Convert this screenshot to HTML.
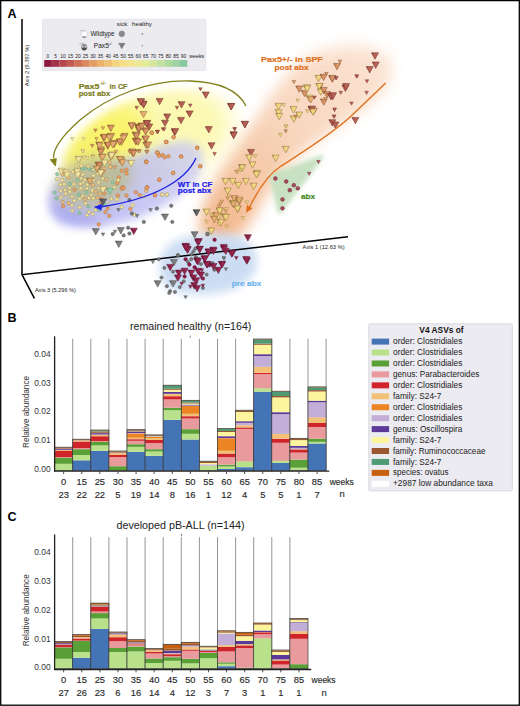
<!DOCTYPE html>
<html><head><meta charset="utf-8"><style>
html,body{margin:0;padding:0;background:#fff;}
svg{display:block;}
</style></head><body>
<svg width="520" height="706" viewBox="0 0 520 706">
<rect width="520" height="706" fill="#fff"/>
<defs>
<filter id="b14" x="-50%" y="-50%" width="200%" height="200%"><feGaussianBlur stdDeviation="14"/></filter>
<filter id="b10" x="-50%" y="-50%" width="200%" height="200%"><feGaussianBlur stdDeviation="10"/></filter>
<filter id="b7" x="-50%" y="-50%" width="200%" height="200%"><feGaussianBlur stdDeviation="7"/></filter>
<filter id="b4" x="-50%" y="-50%" width="200%" height="200%"><feGaussianBlur stdDeviation="4"/></filter>
<filter id="b2" x="-50%" y="-50%" width="200%" height="200%"><feGaussianBlur stdDeviation="2"/></filter>
<marker id="ah" viewBox="0 0 10 10" refX="8" refY="5" markerWidth="4" markerHeight="4" orient="auto-start-reverse"><path d="M0,0 L10,5 L0,10 z" fill="context-stroke"/></marker>
</defs>
<g>
<linearGradient id="og" gradientUnits="userSpaceOnUse" x1="380" y1="50" x2="215" y2="245"><stop offset="0" stop-color="#fbe3d2"/><stop offset="0.45" stop-color="#f8d5bb"/><stop offset="1" stop-color="#f2b184"/></linearGradient>
<path d="M318,52 C350,40 392,44 392,68 C392,95 360,112 330,132 C300,152 282,170 268,192 C256,212 248,232 230,242 C212,250 198,240 200,222 C204,192 226,162 250,128 C272,95 290,62 318,52 Z" fill="url(#og)" opacity="0.95" filter="url(#b7)"/>
<clipPath id="arcclip"><path d="M241,111 C233,97 217,90 190,89 C154,88 118,101 90,124 C74,138 65,150 63,162 L63,250 L270,250 Z"/></clipPath>
<g filter="url(#b4)"><g clip-path="url(#arcclip)">
<ellipse cx="130" cy="134" rx="100" ry="56" transform="rotate(-6 130 134)" fill="#f9f25e" opacity="0.45" filter="url(#b10)"/>
<ellipse cx="98" cy="138" rx="52" ry="35" transform="rotate(-15 98 138)" fill="#f7ef40" opacity="0.62" filter="url(#b10)"/>
<ellipse cx="205" cy="112" rx="40" ry="22" transform="rotate(10 205 112)" fill="#faf49a" opacity="0.2" filter="url(#b10)"/>
</g></g>
<linearGradient id="bg" gradientUnits="userSpaceOnUse" x1="50" y1="210" x2="205" y2="150"><stop offset="0" stop-color="#a6a6f0"/><stop offset="0.55" stop-color="#b6b6f3"/><stop offset="1" stop-color="#cdcdf7"/></linearGradient>
<path d="M48,200 C48,180 80,170 110,163 C140,156 160,143 182,141 C198,140 205,150 203,164 C200,184 178,200 150,213 C120,226 84,231 63,225 C52,220 48,210 48,200 Z" fill="url(#bg)" opacity="0.75" filter="url(#b4)"/>
<path d="M52,205 C55,220 80,228 105,224 C90,215 70,205 52,205 Z" fill="#9c9cee" opacity="0.5" filter="url(#b4)"/>
<ellipse cx="93" cy="182" rx="38" ry="25" transform="rotate(-14 93 182)" fill="#bcbc90" opacity="0.85" filter="url(#b7)"/>
<path d="M175,241 C190,234 215,232 232,234 C249,238 258,250 257,264 C255,279 240,289 220,293 C200,296 179,295 167,288 C158,280 158,263 163,253 C166,247 170,243 175,241 Z" fill="#cadcf3" opacity="0.95" filter="url(#b4)"/>
<path d="M271,176 L321.5,157 L279.5,212 Z" fill="#c6e0bf" stroke="#c6e0bf" stroke-width="4" stroke-linejoin="round" opacity="0.95" filter="url(#b2)"/>
</g>
<rect x="42.5" y="19.2" width="163.3" height="51.4" rx="1.5" fill="#ebebf0" stroke="#dcdce2" stroke-width="0.6"/>
<rect x="44.20" y="60" width="7.63" height="6.8" fill="#8d1a3d"/>
<rect x="51.73" y="60" width="7.63" height="6.8" fill="#a3334a"/>
<rect x="59.26" y="60" width="7.63" height="6.8" fill="#b44750"/>
<rect x="66.79" y="60" width="7.63" height="6.8" fill="#c15b52"/>
<rect x="74.32" y="60" width="7.63" height="6.8" fill="#cd7256"/>
<rect x="81.85" y="60" width="7.63" height="6.8" fill="#d9895d"/>
<rect x="89.38" y="60" width="7.63" height="6.8" fill="#e29e64"/>
<rect x="96.91" y="60" width="7.63" height="6.8" fill="#eab26d"/>
<rect x="104.44" y="60" width="7.63" height="6.8" fill="#efc377"/>
<rect x="111.97" y="60" width="7.63" height="6.8" fill="#f3d480"/>
<rect x="119.50" y="60" width="7.63" height="6.8" fill="#f5de88"/>
<rect x="127.03" y="60" width="7.63" height="6.8" fill="#f3e58f"/>
<rect x="134.56" y="60" width="7.63" height="6.8" fill="#eee996"/>
<rect x="142.09" y="60" width="7.63" height="6.8" fill="#e3ea9a"/>
<rect x="149.62" y="60" width="7.63" height="6.8" fill="#d4e69d"/>
<rect x="157.15" y="60" width="7.63" height="6.8" fill="#c2e0a0"/>
<rect x="164.68" y="60" width="7.63" height="6.8" fill="#b0d9a0"/>
<rect x="172.21" y="60" width="7.63" height="6.8" fill="#9dd1a0"/>
<rect x="179.74" y="60" width="7.63" height="6.8" fill="#88c89f"/>
<text x="47.90" y="57.6" text-anchor="middle" font-family='"Liberation Sans", sans-serif' font-size="5.3" fill="#222" textLength="2.6" lengthAdjust="spacingAndGlyphs">0</text>
<text x="55.43" y="57.6" text-anchor="middle" font-family='"Liberation Sans", sans-serif' font-size="5.3" fill="#222" textLength="2.6" lengthAdjust="spacingAndGlyphs">5</text>
<text x="62.96" y="57.6" text-anchor="middle" font-family='"Liberation Sans", sans-serif' font-size="5.3" fill="#222" textLength="5.5" lengthAdjust="spacingAndGlyphs">10</text>
<text x="70.49" y="57.6" text-anchor="middle" font-family='"Liberation Sans", sans-serif' font-size="5.3" fill="#222" textLength="5.5" lengthAdjust="spacingAndGlyphs">15</text>
<text x="78.02" y="57.6" text-anchor="middle" font-family='"Liberation Sans", sans-serif' font-size="5.3" fill="#222" textLength="5.5" lengthAdjust="spacingAndGlyphs">20</text>
<text x="85.55" y="57.6" text-anchor="middle" font-family='"Liberation Sans", sans-serif' font-size="5.3" fill="#222" textLength="5.5" lengthAdjust="spacingAndGlyphs">25</text>
<text x="93.08" y="57.6" text-anchor="middle" font-family='"Liberation Sans", sans-serif' font-size="5.3" fill="#222" textLength="5.5" lengthAdjust="spacingAndGlyphs">30</text>
<text x="100.61" y="57.6" text-anchor="middle" font-family='"Liberation Sans", sans-serif' font-size="5.3" fill="#222" textLength="5.5" lengthAdjust="spacingAndGlyphs">35</text>
<text x="108.14" y="57.6" text-anchor="middle" font-family='"Liberation Sans", sans-serif' font-size="5.3" fill="#222" textLength="5.5" lengthAdjust="spacingAndGlyphs">40</text>
<text x="115.67" y="57.6" text-anchor="middle" font-family='"Liberation Sans", sans-serif' font-size="5.3" fill="#222" textLength="5.5" lengthAdjust="spacingAndGlyphs">45</text>
<text x="123.20" y="57.6" text-anchor="middle" font-family='"Liberation Sans", sans-serif' font-size="5.3" fill="#222" textLength="5.5" lengthAdjust="spacingAndGlyphs">50</text>
<text x="130.73" y="57.6" text-anchor="middle" font-family='"Liberation Sans", sans-serif' font-size="5.3" fill="#222" textLength="5.5" lengthAdjust="spacingAndGlyphs">55</text>
<text x="138.26" y="57.6" text-anchor="middle" font-family='"Liberation Sans", sans-serif' font-size="5.3" fill="#222" textLength="5.5" lengthAdjust="spacingAndGlyphs">60</text>
<text x="145.79" y="57.6" text-anchor="middle" font-family='"Liberation Sans", sans-serif' font-size="5.3" fill="#222" textLength="5.5" lengthAdjust="spacingAndGlyphs">65</text>
<text x="153.32" y="57.6" text-anchor="middle" font-family='"Liberation Sans", sans-serif' font-size="5.3" fill="#222" textLength="5.5" lengthAdjust="spacingAndGlyphs">70</text>
<text x="160.85" y="57.6" text-anchor="middle" font-family='"Liberation Sans", sans-serif' font-size="5.3" fill="#222" textLength="5.5" lengthAdjust="spacingAndGlyphs">75</text>
<text x="168.38" y="57.6" text-anchor="middle" font-family='"Liberation Sans", sans-serif' font-size="5.3" fill="#222" textLength="5.5" lengthAdjust="spacingAndGlyphs">80</text>
<text x="175.91" y="57.6" text-anchor="middle" font-family='"Liberation Sans", sans-serif' font-size="5.3" fill="#222" textLength="5.5" lengthAdjust="spacingAndGlyphs">85</text>
<text x="183.44" y="57.6" text-anchor="middle" font-family='"Liberation Sans", sans-serif' font-size="5.3" fill="#222" textLength="5.5" lengthAdjust="spacingAndGlyphs">90</text>
<text x="189.2" y="57.6" font-family='"Liberation Sans", sans-serif' font-size="5.3" fill="#222">weeks</text>
<text x="116.8" y="26.3" font-family='"Liberation Sans", sans-serif' font-size="6.2" fill="#222">sick</text>
<text x="132" y="26.3" font-family='"Liberation Sans", sans-serif' font-size="6.2" fill="#222">healthy</text>
<text x="90.4" y="36" font-family='"Liberation Sans", sans-serif' font-size="6.6" fill="#222" textLength="24.2" lengthAdjust="spacingAndGlyphs">Wildtype</text>
<text x="93.8" y="48.2" font-family='"Liberation Sans", sans-serif' font-size="6.6" fill="#222">Pax5</text>
<text x="108.2" y="45.4" font-family='"Liberation Sans", sans-serif' font-size="3.6" fill="#222">+/-</text>
<circle cx="121.8" cy="33.8" r="2.9" fill="#8a8a8a" stroke="#777" stroke-width="0.4"/>
<circle cx="142.3" cy="33.8" r="0.9" fill="#888"/>
<path d="M118.6,43.3 L125,43.3 L121.8,48.8 Z" fill="#7e7e7e" stroke="#666" stroke-width="0.4"/>
<path d="M141.3,45.2 L143.3,45.2 L142.3,46.8 Z" fill="#888"/>
<path d="M79.3,32.3 C80.3,30.6 82.3,29.8 84.6,30.9" fill="none" stroke="#9a9a9a" stroke-width="0.55"/>
<ellipse cx="84.2" cy="34.6" rx="3.1" ry="3.4" fill="#fff" stroke="#c4c4c8" stroke-width="0.5"/>
<ellipse cx="84.2" cy="36.9" rx="2.1" ry="1" fill="#9a9a9a"/>
<path d="M79.3,45 C80.3,43.3 82.3,42.6 84.6,43.6" fill="none" stroke="#8a8a8a" stroke-width="0.55"/>
<ellipse cx="84.2" cy="47.2" rx="3.1" ry="3.3" fill="#8a8a8a"/>
<ellipse cx="84.2" cy="48.9" rx="2.2" ry="1.3" fill="#4a4a4a"/>
<ellipse cx="82.6" cy="46.8" rx="1" ry="0.6" fill="#fff"/><ellipse cx="85.8" cy="46.8" rx="1" ry="0.6" fill="#fff"/>
<path d="M22,19 L22,274.7 L348,236.8 M22,274.7 L34.4,298.4" fill="none" stroke="#000" stroke-width="1.5" stroke-linejoin="miter"/>
<text transform="translate(28.6,86.3) rotate(-90)" font-family='"Liberation Sans", sans-serif' font-size="5.3" fill="#222" textLength="41.5" lengthAdjust="spacingAndGlyphs">Axis 2 (9.397 %)</text>
<text x="302.6" y="249.3" font-family='"Liberation Sans", sans-serif' font-size="5.3" fill="#222" textLength="42" lengthAdjust="spacingAndGlyphs">Axis 1 (12.63 %)</text>
<text x="34.9" y="292.4" font-family='"Liberation Sans", sans-serif' font-size="5.3" fill="#222" textLength="41" lengthAdjust="spacingAndGlyphs">Axis 3 (5.296 %)</text>
<defs><linearGradient id="tgm" x1="0" y1="0" x2="1" y2="0.25"><stop offset="0" stop-color="#58102a"/><stop offset="0.35" stop-color="#8e1b45"/><stop offset="1" stop-color="#9b365b"/></linearGradient><linearGradient id="tgn" x1="0" y1="0" x2="1" y2="0.25"><stop offset="0" stop-color="#682d39"/><stop offset="0.35" stop-color="#a94a5c"/><stop offset="1" stop-color="#b35f6f"/></linearGradient><linearGradient id="tgr" x1="0" y1="0" x2="1" y2="0.25"><stop offset="0" stop-color="#70382f"/><stop offset="0.35" stop-color="#b65b4d"/><stop offset="1" stop-color="#be6e62"/></linearGradient><linearGradient id="tgo" x1="0" y1="0" x2="1" y2="0.25"><stop offset="0" stop-color="#86593a"/><stop offset="0.35" stop-color="#d9905f"/><stop offset="1" stop-color="#dd9d72"/></linearGradient><linearGradient id="tga" x1="0" y1="0" x2="1" y2="0.25"><stop offset="0" stop-color="#8e6b42"/><stop offset="0.35" stop-color="#e6ad6c"/><stop offset="1" stop-color="#e9b67d"/></linearGradient><linearGradient id="tgy" x1="0" y1="0" x2="1" y2="0.25"><stop offset="0" stop-color="#96834c"/><stop offset="0.35" stop-color="#f2d47c"/><stop offset="1" stop-color="#f3d98b"/></linearGradient><linearGradient id="tgp" x1="0" y1="0" x2="1" y2="0.25"><stop offset="0" stop-color="#968c5f"/><stop offset="0.35" stop-color="#f3e39a"/><stop offset="1" stop-color="#f4e6a6"/></linearGradient><linearGradient id="tgg" x1="0" y1="0" x2="1" y2="0.25"><stop offset="0" stop-color="#5a7d68"/><stop offset="0.35" stop-color="#92caa8"/><stop offset="1" stop-color="#9fd0b2"/></linearGradient><linearGradient id="tgk" x1="0" y1="0" x2="1" y2="0.25"><stop offset="0" stop-color="#4b4b4b"/><stop offset="0.35" stop-color="#7a7a7a"/><stop offset="1" stop-color="#898989"/></linearGradient><linearGradient id="tgd" x1="0" y1="0" x2="1" y2="0.25"><stop offset="0" stop-color="#373737"/><stop offset="0.35" stop-color="#5a5a5a"/><stop offset="1" stop-color="#6d6d6d"/></linearGradient><linearGradient id="tgc" x1="0" y1="0" x2="1" y2="0.25"><stop offset="0" stop-color="#90633c"/><stop offset="0.35" stop-color="#e9a062"/><stop offset="1" stop-color="#ebab74"/></linearGradient><linearGradient id="tge" x1="0" y1="0" x2="1" y2="0.25"><stop offset="0" stop-color="#947850"/><stop offset="0.35" stop-color="#f0c382"/><stop offset="1" stop-color="#f1ca91"/></linearGradient></defs>
<circle cx="99.34" cy="209.93" r="1.65" fill="#92caa8" stroke="#6a9a80" stroke-width="0.45"/>
<circle cx="60.60" cy="190.83" r="1.65" fill="#f3e39a" stroke="#a09060" stroke-width="0.45"/>
<circle cx="93.33" cy="198.18" r="1.65" fill="#f3e39a" stroke="#a09060" stroke-width="0.45"/>
<circle cx="68.47" cy="177.56" r="1.65" fill="#f0c382" stroke="#987040" stroke-width="0.45"/>
<circle cx="98.93" cy="166.87" r="1.65" fill="#f3e39a" stroke="#a09060" stroke-width="0.45"/>
<circle cx="103.52" cy="172.33" r="1.65" fill="#f0c382" stroke="#987040" stroke-width="0.45"/>
<circle cx="79.45" cy="169.62" r="1.65" fill="#f3e39a" stroke="#a09060" stroke-width="0.45"/>
<circle cx="56.95" cy="179.10" r="1.65" fill="#f3e39a" stroke="#a09060" stroke-width="0.45"/>
<circle cx="77.68" cy="179.70" r="1.65" fill="#92caa8" stroke="#6a9a80" stroke-width="0.45"/>
<circle cx="88.54" cy="180.11" r="1.65" fill="#f3e39a" stroke="#a09060" stroke-width="0.45"/>
<circle cx="79.83" cy="198.50" r="1.65" fill="#f3e39a" stroke="#a09060" stroke-width="0.45"/>
<circle cx="78.96" cy="194.73" r="1.65" fill="#92caa8" stroke="#6a9a80" stroke-width="0.45"/>
<circle cx="93.43" cy="179.87" r="1.65" fill="#f3e39a" stroke="#a09060" stroke-width="0.45"/>
<circle cx="63.31" cy="206.24" r="1.65" fill="#e9a062" stroke="#a86a3a" stroke-width="0.45"/>
<circle cx="82.85" cy="174.61" r="1.65" fill="#f3e39a" stroke="#a09060" stroke-width="0.45"/>
<circle cx="54.49" cy="192.55" r="1.65" fill="#92caa8" stroke="#6a9a80" stroke-width="0.45"/>
<circle cx="85.03" cy="168.45" r="1.65" fill="#92caa8" stroke="#6a9a80" stroke-width="0.45"/>
<circle cx="74.41" cy="189.72" r="1.65" fill="#e9a062" stroke="#a86a3a" stroke-width="0.45"/>
<circle cx="86.47" cy="192.17" r="1.65" fill="#92caa8" stroke="#6a9a80" stroke-width="0.45"/>
<circle cx="79.46" cy="213.02" r="1.65" fill="#92caa8" stroke="#6a9a80" stroke-width="0.45"/>
<circle cx="104.79" cy="204.48" r="1.65" fill="#92caa8" stroke="#6a9a80" stroke-width="0.45"/>
<circle cx="79.62" cy="207.31" r="1.65" fill="#f3e39a" stroke="#a09060" stroke-width="0.45"/>
<circle cx="88.91" cy="211.88" r="1.65" fill="#f3e39a" stroke="#a09060" stroke-width="0.45"/>
<circle cx="101.38" cy="198.65" r="1.65" fill="#e9a062" stroke="#a86a3a" stroke-width="0.45"/>
<circle cx="93.57" cy="175.55" r="1.65" fill="#f3e39a" stroke="#a09060" stroke-width="0.45"/>
<circle cx="87.18" cy="215.17" r="1.65" fill="#f3e39a" stroke="#a09060" stroke-width="0.45"/>
<circle cx="112.62" cy="182.35" r="1.65" fill="#92caa8" stroke="#6a9a80" stroke-width="0.45"/>
<circle cx="91.38" cy="195.05" r="1.65" fill="#f3e39a" stroke="#a09060" stroke-width="0.45"/>
<circle cx="88.27" cy="206.40" r="1.65" fill="#92caa8" stroke="#6a9a80" stroke-width="0.45"/>
<circle cx="111.31" cy="198.66" r="1.65" fill="#f3e39a" stroke="#a09060" stroke-width="0.45"/>
<circle cx="85.52" cy="203.51" r="1.65" fill="#f3e39a" stroke="#a09060" stroke-width="0.45"/>
<circle cx="62.15" cy="180.21" r="1.65" fill="#f3e39a" stroke="#a09060" stroke-width="0.45"/>
<circle cx="87.37" cy="184.62" r="1.65" fill="#f3e39a" stroke="#a09060" stroke-width="0.45"/>
<circle cx="114.21" cy="187.34" r="1.65" fill="#f3e39a" stroke="#a09060" stroke-width="0.45"/>
<circle cx="97.29" cy="197.47" r="1.65" fill="#f0c382" stroke="#987040" stroke-width="0.45"/>
<circle cx="62.69" cy="202.06" r="1.65" fill="#f0c382" stroke="#987040" stroke-width="0.45"/>
<circle cx="80.56" cy="188.22" r="1.65" fill="#f3e39a" stroke="#a09060" stroke-width="0.45"/>
<circle cx="88.25" cy="166.53" r="1.65" fill="#f3e39a" stroke="#a09060" stroke-width="0.45"/>
<circle cx="74.28" cy="200.56" r="1.65" fill="#f3e39a" stroke="#a09060" stroke-width="0.45"/>
<circle cx="92.27" cy="190.50" r="1.65" fill="#f3e39a" stroke="#a09060" stroke-width="0.45"/>
<circle cx="104.79" cy="188.30" r="1.65" fill="#f0c382" stroke="#987040" stroke-width="0.45"/>
<circle cx="57.20" cy="174.10" r="1.65" fill="#92caa8" stroke="#6a9a80" stroke-width="0.45"/>
<circle cx="68.66" cy="203.20" r="1.65" fill="#f0c382" stroke="#987040" stroke-width="0.45"/>
<circle cx="60.22" cy="184.54" r="1.65" fill="#f3e39a" stroke="#a09060" stroke-width="0.45"/>
<circle cx="56.37" cy="198.27" r="1.65" fill="#92caa8" stroke="#6a9a80" stroke-width="0.45"/>
<circle cx="84.81" cy="180.02" r="1.65" fill="#f3e39a" stroke="#a09060" stroke-width="0.45"/>
<circle cx="99.98" cy="193.41" r="1.65" fill="#f0c382" stroke="#987040" stroke-width="0.45"/>
<circle cx="72.01" cy="196.62" r="1.65" fill="#f3e39a" stroke="#a09060" stroke-width="0.45"/>
<circle cx="69.82" cy="183.98" r="1.65" fill="#92caa8" stroke="#6a9a80" stroke-width="0.45"/>
<circle cx="78.93" cy="174.45" r="1.65" fill="#f3e39a" stroke="#a09060" stroke-width="0.45"/>
<circle cx="98.65" cy="182.41" r="1.65" fill="#f3e39a" stroke="#a09060" stroke-width="0.45"/>
<circle cx="95.57" cy="209.81" r="1.65" fill="#f3e39a" stroke="#a09060" stroke-width="0.45"/>
<circle cx="99.08" cy="188.01" r="1.65" fill="#f3e39a" stroke="#a09060" stroke-width="0.45"/>
<circle cx="64.09" cy="184.22" r="1.65" fill="#f3e39a" stroke="#a09060" stroke-width="0.45"/>
<circle cx="69.87" cy="191.74" r="1.65" fill="#f3e39a" stroke="#a09060" stroke-width="0.45"/>
<circle cx="102.81" cy="178.38" r="1.65" fill="#f3e39a" stroke="#a09060" stroke-width="0.45"/>
<circle cx="107.66" cy="208.25" r="1.65" fill="#e9a062" stroke="#a86a3a" stroke-width="0.45"/>
<circle cx="65.63" cy="193.60" r="1.65" fill="#f3e39a" stroke="#a09060" stroke-width="0.45"/>
<circle cx="75.86" cy="165.56" r="1.65" fill="#f3e39a" stroke="#a09060" stroke-width="0.45"/>
<circle cx="88.98" cy="198.00" r="1.65" fill="#f3e39a" stroke="#a09060" stroke-width="0.45"/>
<circle cx="73.74" cy="184.16" r="1.65" fill="#f3e39a" stroke="#a09060" stroke-width="0.45"/>
<circle cx="71.96" cy="205.31" r="1.65" fill="#f3e39a" stroke="#a09060" stroke-width="0.45"/>
<circle cx="69.56" cy="188.02" r="1.65" fill="#f3e39a" stroke="#a09060" stroke-width="0.45"/>
<circle cx="92.30" cy="169.98" r="1.65" fill="#92caa8" stroke="#6a9a80" stroke-width="0.45"/>
<circle cx="87.04" cy="188.39" r="1.65" fill="#f3e39a" stroke="#a09060" stroke-width="0.45"/>
<circle cx="95.85" cy="191.74" r="1.65" fill="#f0c382" stroke="#987040" stroke-width="0.45"/>
<circle cx="73.06" cy="172.08" r="1.65" fill="#f3e39a" stroke="#a09060" stroke-width="0.45"/>
<circle cx="92.79" cy="213.91" r="1.65" fill="#f3e39a" stroke="#a09060" stroke-width="0.45"/>
<circle cx="97.11" cy="205.56" r="1.65" fill="#f3e39a" stroke="#a09060" stroke-width="0.45"/>
<circle cx="106.30" cy="179.48" r="1.65" fill="#f0c382" stroke="#987040" stroke-width="0.45"/>
<circle cx="98.43" cy="172.61" r="1.65" fill="#f3e39a" stroke="#a09060" stroke-width="0.45"/>
<circle cx="81.39" cy="165.62" r="1.65" fill="#f3e39a" stroke="#a09060" stroke-width="0.45"/>
<circle cx="60.79" cy="197.38" r="1.65" fill="#f3e39a" stroke="#a09060" stroke-width="0.45"/>
<circle cx="65.97" cy="171.32" r="1.65" fill="#f3e39a" stroke="#a09060" stroke-width="0.45"/>
<circle cx="101.12" cy="206.32" r="1.65" fill="#92caa8" stroke="#6a9a80" stroke-width="0.45"/>
<circle cx="82.65" cy="196.04" r="1.65" fill="#f3e39a" stroke="#a09060" stroke-width="0.45"/>
<circle cx="81.04" cy="178.34" r="1.65" fill="#f3e39a" stroke="#a09060" stroke-width="0.45"/>
<circle cx="93.14" cy="185.04" r="1.65" fill="#f0c382" stroke="#987040" stroke-width="0.45"/>
<circle cx="104.22" cy="193.55" r="1.65" fill="#e9a062" stroke="#a86a3a" stroke-width="0.45"/>
<circle cx="85.04" cy="199.55" r="1.65" fill="#f0c382" stroke="#987040" stroke-width="0.45"/>
<circle cx="101.03" cy="202.51" r="1.65" fill="#e9a062" stroke="#a86a3a" stroke-width="0.45"/>
<circle cx="64.86" cy="190.04" r="1.65" fill="#f3e39a" stroke="#a09060" stroke-width="0.45"/>
<circle cx="62.36" cy="174.56" r="1.65" fill="#f0c382" stroke="#987040" stroke-width="0.45"/>
<circle cx="72.27" cy="210.77" r="1.65" fill="#f3e39a" stroke="#a09060" stroke-width="0.45"/>
<circle cx="80.50" cy="183.81" r="1.65" fill="#f3e39a" stroke="#a09060" stroke-width="0.45"/>
<circle cx="275.40" cy="178.50" r="1.90" fill="#a94a5c" stroke="#6a2434" stroke-width="0.45"/>
<circle cx="286.20" cy="181.50" r="1.90" fill="#a94a5c" stroke="#6a2434" stroke-width="0.45"/>
<circle cx="293.80" cy="185.20" r="1.90" fill="#a94a5c" stroke="#6a2434" stroke-width="0.45"/>
<circle cx="297.80" cy="188.30" r="1.90" fill="#a94a5c" stroke="#6a2434" stroke-width="0.45"/>
<circle cx="289.80" cy="190.20" r="1.90" fill="#a94a5c" stroke="#6a2434" stroke-width="0.45"/>
<circle cx="282.50" cy="199.40" r="1.90" fill="#a94a5c" stroke="#6a2434" stroke-width="0.45"/>
<circle cx="282.50" cy="208.30" r="1.90" fill="#a94a5c" stroke="#6a2434" stroke-width="0.45"/>
<circle cx="152.00" cy="132.70" r="1.80" fill="#e9a062" stroke="#a86a3a" stroke-width="0.45"/>
<circle cx="173.50" cy="137.30" r="1.80" fill="#e9a062" stroke="#a86a3a" stroke-width="0.45"/>
<circle cx="166.50" cy="142.00" r="1.80" fill="#e9a062" stroke="#a86a3a" stroke-width="0.45"/>
<circle cx="197.20" cy="147.70" r="1.80" fill="#e9a062" stroke="#a86a3a" stroke-width="0.45"/>
<circle cx="151.50" cy="132.70" r="1.80" fill="#e9a062" stroke="#a86a3a" stroke-width="0.45"/>
<circle cx="173.70" cy="137.10" r="1.80" fill="#e9a062" stroke="#a86a3a" stroke-width="0.45"/>
<circle cx="166.00" cy="141.90" r="1.80" fill="#e9a062" stroke="#a86a3a" stroke-width="0.45"/>
<circle cx="197.30" cy="148.00" r="1.80" fill="#e9a062" stroke="#a86a3a" stroke-width="0.45"/>
<circle cx="157.30" cy="152.50" r="1.80" fill="#e9a062" stroke="#a86a3a" stroke-width="0.45"/>
<circle cx="158.80" cy="155.40" r="1.80" fill="#e9a062" stroke="#a86a3a" stroke-width="0.45"/>
<circle cx="162.70" cy="155.00" r="1.80" fill="#e9a062" stroke="#a86a3a" stroke-width="0.45"/>
<circle cx="164.60" cy="157.30" r="1.80" fill="#e9a062" stroke="#a86a3a" stroke-width="0.45"/>
<circle cx="168.50" cy="156.30" r="1.80" fill="#e9a062" stroke="#a86a3a" stroke-width="0.45"/>
<circle cx="181.00" cy="156.30" r="1.80" fill="#e9a062" stroke="#a86a3a" stroke-width="0.45"/>
<circle cx="146.30" cy="161.50" r="1.80" fill="#e9a062" stroke="#a86a3a" stroke-width="0.45"/>
<circle cx="200.40" cy="166.20" r="1.80" fill="#e9a062" stroke="#a86a3a" stroke-width="0.45"/>
<circle cx="157.70" cy="152.90" r="1.80" fill="#e9a062" stroke="#a86a3a" stroke-width="0.45"/>
<circle cx="159.20" cy="155.80" r="1.80" fill="#e9a062" stroke="#a86a3a" stroke-width="0.45"/>
<circle cx="181.30" cy="156.70" r="1.80" fill="#e9a062" stroke="#a86a3a" stroke-width="0.45"/>
<circle cx="146.20" cy="161.90" r="1.80" fill="#e9a062" stroke="#a86a3a" stroke-width="0.45"/>
<circle cx="200.00" cy="166.30" r="1.80" fill="#e9a062" stroke="#a86a3a" stroke-width="0.45"/>
<circle cx="173.10" cy="173.10" r="1.80" fill="#e9a062" stroke="#a86a3a" stroke-width="0.45"/>
<circle cx="159.20" cy="179.80" r="1.80" fill="#e9a062" stroke="#a86a3a" stroke-width="0.45"/>
<circle cx="146.70" cy="187.50" r="1.80" fill="#f0c382" stroke="#987040" stroke-width="0.45"/>
<circle cx="146.20" cy="190.80" r="1.80" fill="#f0c382" stroke="#987040" stroke-width="0.45"/>
<circle cx="155.00" cy="195.20" r="1.80" fill="#e9a062" stroke="#a86a3a" stroke-width="0.45"/>
<circle cx="162.10" cy="194.60" r="1.80" fill="#f3e39a" stroke="#a09060" stroke-width="0.45"/>
<circle cx="166.90" cy="194.60" r="1.80" fill="#f3e39a" stroke="#a09060" stroke-width="0.45"/>
<circle cx="143.80" cy="196.20" r="1.80" fill="#f3e39a" stroke="#a09060" stroke-width="0.45"/>
<circle cx="151.90" cy="132.80" r="1.80" fill="#e9a062" stroke="#a86a3a" stroke-width="0.45"/>
<circle cx="166.10" cy="142.00" r="1.80" fill="#e9a062" stroke="#a86a3a" stroke-width="0.45"/>
<circle cx="157.30" cy="152.80" r="1.80" fill="#e9a062" stroke="#a86a3a" stroke-width="0.45"/>
<circle cx="146.50" cy="162.00" r="1.80" fill="#e9a062" stroke="#a86a3a" stroke-width="0.45"/>
<circle cx="173.20" cy="172.80" r="1.80" fill="#e9a062" stroke="#a86a3a" stroke-width="0.45"/>
<circle cx="159.30" cy="179.50" r="1.80" fill="#e9a062" stroke="#a86a3a" stroke-width="0.45"/>
<circle cx="121.90" cy="170.80" r="1.80" fill="#e9a062" stroke="#a86a3a" stroke-width="0.45"/>
<circle cx="126.50" cy="169.70" r="1.80" fill="#e9a062" stroke="#a86a3a" stroke-width="0.45"/>
<circle cx="126.50" cy="173.40" r="1.80" fill="#e9a062" stroke="#a86a3a" stroke-width="0.45"/>
<circle cx="118.80" cy="177.40" r="1.80" fill="#e9a062" stroke="#a86a3a" stroke-width="0.45"/>
<circle cx="117.30" cy="183.10" r="1.80" fill="#e9a062" stroke="#a86a3a" stroke-width="0.45"/>
<circle cx="122.40" cy="187.20" r="1.80" fill="#e9a062" stroke="#a86a3a" stroke-width="0.45"/>
<circle cx="147.30" cy="187.20" r="1.80" fill="#e9a062" stroke="#a86a3a" stroke-width="0.45"/>
<circle cx="109.60" cy="162.30" r="1.80" fill="#f0c382" stroke="#987040" stroke-width="0.45"/>
<circle cx="110.40" cy="166.90" r="1.80" fill="#f0c382" stroke="#987040" stroke-width="0.45"/>
<circle cx="104.20" cy="168.50" r="1.80" fill="#f0c382" stroke="#987040" stroke-width="0.45"/>
<circle cx="118.10" cy="180.00" r="1.80" fill="#f3e39a" stroke="#a09060" stroke-width="0.45"/>
<circle cx="117.90" cy="195.60" r="1.80" fill="#e9a062" stroke="#a86a3a" stroke-width="0.45"/>
<circle cx="126.50" cy="195.60" r="1.80" fill="#e9a062" stroke="#a86a3a" stroke-width="0.45"/>
<circle cx="135.80" cy="192.30" r="1.80" fill="#e9a062" stroke="#a86a3a" stroke-width="0.45"/>
<circle cx="139.60" cy="195.00" r="1.80" fill="#e9a062" stroke="#a86a3a" stroke-width="0.45"/>
<circle cx="146.70" cy="187.90" r="1.80" fill="#e9a062" stroke="#a86a3a" stroke-width="0.45"/>
<circle cx="155.00" cy="195.00" r="1.80" fill="#e9a062" stroke="#a86a3a" stroke-width="0.45"/>
<circle cx="130.40" cy="209.00" r="1.80" fill="#e9a062" stroke="#a86a3a" stroke-width="0.45"/>
<circle cx="121.70" cy="188.80" r="1.80" fill="#e9a062" stroke="#a86a3a" stroke-width="0.45"/>
<circle cx="123.70" cy="187.90" r="1.80" fill="#e9a062" stroke="#a86a3a" stroke-width="0.45"/>
<circle cx="98.70" cy="224.40" r="1.80" fill="#e9a062" stroke="#a86a3a" stroke-width="0.45"/>
<circle cx="109.20" cy="215.80" r="1.80" fill="#e9a062" stroke="#a86a3a" stroke-width="0.45"/>
<circle cx="105.40" cy="212.00" r="1.80" fill="#e9a062" stroke="#a86a3a" stroke-width="0.45"/>
<circle cx="134.60" cy="214.80" r="1.80" fill="#f3e39a" stroke="#a09060" stroke-width="0.45"/>
<circle cx="132.70" cy="205.20" r="1.80" fill="#f3e39a" stroke="#a09060" stroke-width="0.45"/>
<circle cx="116.90" cy="199.40" r="1.80" fill="#f3e39a" stroke="#a09060" stroke-width="0.45"/>
<circle cx="121.70" cy="207.10" r="1.80" fill="#f3e39a" stroke="#a09060" stroke-width="0.45"/>
<circle cx="166.90" cy="194.60" r="1.80" fill="#f3e39a" stroke="#a09060" stroke-width="0.45"/>
<circle cx="162.10" cy="194.60" r="1.80" fill="#f3e39a" stroke="#a09060" stroke-width="0.45"/>
<circle cx="129.40" cy="200.00" r="1.70" fill="#7a7a7a" stroke="#4a4a4a" stroke-width="0.45"/>
<circle cx="131.90" cy="213.50" r="1.70" fill="#7a7a7a" stroke="#4a4a4a" stroke-width="0.45"/>
<circle cx="156.90" cy="208.50" r="1.70" fill="#7a7a7a" stroke="#4a4a4a" stroke-width="0.45"/>
<circle cx="171.20" cy="205.80" r="1.70" fill="#7a7a7a" stroke="#4a4a4a" stroke-width="0.45"/>
<circle cx="143.80" cy="221.90" r="1.70" fill="#7a7a7a" stroke="#4a4a4a" stroke-width="0.45"/>
<circle cx="172.30" cy="221.90" r="1.70" fill="#7a7a7a" stroke="#4a4a4a" stroke-width="0.45"/>
<circle cx="128.10" cy="227.70" r="1.70" fill="#7a7a7a" stroke="#4a4a4a" stroke-width="0.45"/>
<circle cx="129.40" cy="233.50" r="1.70" fill="#7a7a7a" stroke="#4a4a4a" stroke-width="0.45"/>
<circle cx="123.70" cy="235.40" r="1.70" fill="#7a7a7a" stroke="#4a4a4a" stroke-width="0.45"/>
<circle cx="112.70" cy="234.00" r="1.70" fill="#7a7a7a" stroke="#4a4a4a" stroke-width="0.45"/>
<circle cx="178.00" cy="255.20" r="1.70" fill="#7a7a7a" stroke="#4a4a4a" stroke-width="0.45"/>
<circle cx="207.50" cy="234.00" r="2.00" fill="#7a7a7a" stroke="#4a4a4a" stroke-width="0.45"/>
<circle cx="164.40" cy="267.90" r="1.60" fill="#7a7a7a" stroke="#4a4a4a" stroke-width="0.45"/>
<circle cx="161.50" cy="277.50" r="1.60" fill="#7a7a7a" stroke="#4a4a4a" stroke-width="0.45"/>
<circle cx="166.90" cy="286.20" r="1.60" fill="#7a7a7a" stroke="#4a4a4a" stroke-width="0.45"/>
<circle cx="170.20" cy="291.00" r="1.60" fill="#7a7a7a" stroke="#4a4a4a" stroke-width="0.45"/>
<circle cx="175.00" cy="292.00" r="1.60" fill="#7a7a7a" stroke="#4a4a4a" stroke-width="0.45"/>
<circle cx="179.80" cy="287.10" r="1.60" fill="#7a7a7a" stroke="#4a4a4a" stroke-width="0.45"/>
<circle cx="169.20" cy="292.90" r="1.60" fill="#7a7a7a" stroke="#4a4a4a" stroke-width="0.45"/>
<circle cx="177.90" cy="255.40" r="1.60" fill="#7a7a7a" stroke="#4a4a4a" stroke-width="0.45"/>
<circle cx="191.30" cy="259.20" r="1.60" fill="#7a7a7a" stroke="#4a4a4a" stroke-width="0.45"/>
<circle cx="191.30" cy="254.40" r="1.60" fill="#7a7a7a" stroke="#4a4a4a" stroke-width="0.45"/>
<circle cx="195.20" cy="248.70" r="1.60" fill="#7a7a7a" stroke="#4a4a4a" stroke-width="0.45"/>
<circle cx="193.30" cy="251.50" r="1.60" fill="#7a7a7a" stroke="#4a4a4a" stroke-width="0.45"/>
<circle cx="201.00" cy="264.00" r="1.60" fill="#7a7a7a" stroke="#4a4a4a" stroke-width="0.45"/>
<circle cx="212.50" cy="263.00" r="1.60" fill="#7a7a7a" stroke="#4a4a4a" stroke-width="0.45"/>
<circle cx="206.70" cy="274.60" r="1.60" fill="#7a7a7a" stroke="#4a4a4a" stroke-width="0.45"/>
<circle cx="202.90" cy="288.00" r="1.60" fill="#7a7a7a" stroke="#4a4a4a" stroke-width="0.45"/>
<circle cx="158.70" cy="259.20" r="1.60" fill="#7a7a7a" stroke="#4a4a4a" stroke-width="0.45"/>
<circle cx="173.00" cy="271.70" r="1.60" fill="#7a7a7a" stroke="#4a4a4a" stroke-width="0.45"/>
<circle cx="214.40" cy="269.80" r="1.60" fill="#7a7a7a" stroke="#4a4a4a" stroke-width="0.45"/>
<circle cx="183.70" cy="281.30" r="1.60" fill="#7a7a7a" stroke="#4a4a4a" stroke-width="0.45"/>
<circle cx="188.00" cy="262.00" r="1.60" fill="#7a7a7a" stroke="#4a4a4a" stroke-width="0.45"/>
<circle cx="196.00" cy="257.00" r="1.60" fill="#7a7a7a" stroke="#4a4a4a" stroke-width="0.45"/>
<circle cx="214.60" cy="239.80" r="1.80" fill="#8e1b45" stroke="#5a0f2a" stroke-width="0.45"/>
<circle cx="185.60" cy="259.20" r="1.80" fill="#8e1b45" stroke="#5a0f2a" stroke-width="0.45"/>
<circle cx="189.40" cy="264.60" r="1.80" fill="#8e1b45" stroke="#5a0f2a" stroke-width="0.45"/>
<circle cx="194.60" cy="267.30" r="1.80" fill="#8e1b45" stroke="#5a0f2a" stroke-width="0.45"/>
<circle cx="202.90" cy="278.50" r="1.80" fill="#8e1b45" stroke="#5a0f2a" stroke-width="0.45"/>
<circle cx="209.60" cy="265.00" r="1.80" fill="#8e1b45" stroke="#5a0f2a" stroke-width="0.45"/>
<circle cx="184.60" cy="276.50" r="1.80" fill="#8e1b45" stroke="#5a0f2a" stroke-width="0.45"/>
<path d="M371.50,52.78L378.50,52.78L375.00,59.22Z" fill="url(#tgr)" stroke="#6a2a24" stroke-width="0.5" stroke-linejoin="round"/>
<path d="M372.20,61.98L379.20,61.98L375.70,68.42Z" fill="url(#tgr)" stroke="#6a2a24" stroke-width="0.5" stroke-linejoin="round"/>
<path d="M366.20,66.58L373.20,66.58L369.70,73.02Z" fill="url(#tgr)" stroke="#6a2a24" stroke-width="0.5" stroke-linejoin="round"/>
<path d="M333.50,63.38L340.50,63.38L337.00,69.82Z" fill="url(#tgo)" stroke="#7a4a28" stroke-width="0.5" stroke-linejoin="round"/>
<path d="M338.20,59.94L341.80,59.94L340.00,63.26Z" fill="url(#tgo)" stroke="#7a4a28" stroke-width="0.35" stroke-linejoin="round"/>
<path d="M355.20,74.94L358.80,74.94L357.00,78.26Z" fill="url(#tgr)" stroke="#6a2a24" stroke-width="0.35" stroke-linejoin="round"/>
<path d="M365.20,79.74L368.80,79.74L367.00,83.06Z" fill="url(#tgr)" stroke="#6a2a24" stroke-width="0.35" stroke-linejoin="round"/>
<path d="M341.90,85.08L348.90,85.08L345.40,91.52Z" fill="url(#tgr)" stroke="#6a2a24" stroke-width="0.5" stroke-linejoin="round"/>
<path d="M328.80,75.88L335.80,75.88L332.30,82.32Z" fill="url(#tgo)" stroke="#7a4a28" stroke-width="0.5" stroke-linejoin="round"/>
<path d="M334.20,76.64L337.80,76.64L336.00,79.96Z" fill="url(#tgr)" stroke="#6a2a24" stroke-width="0.35" stroke-linejoin="round"/>
<path d="M339.00,91.24L342.60,91.24L340.80,94.56Z" fill="url(#tgr)" stroke="#6a2a24" stroke-width="0.35" stroke-linejoin="round"/>
<path d="M364.80,91.24L368.40,91.24L366.60,94.56Z" fill="url(#tgr)" stroke="#6a2a24" stroke-width="0.35" stroke-linejoin="round"/>
<path d="M349.70,101.94L353.30,101.94L351.50,105.26Z" fill="url(#tgr)" stroke="#6a2a24" stroke-width="0.35" stroke-linejoin="round"/>
<path d="M332.80,108.14L336.40,108.14L334.60,111.46Z" fill="url(#tgr)" stroke="#6a2a24" stroke-width="0.35" stroke-linejoin="round"/>
<path d="M332.50,114.94L336.10,114.94L334.30,118.26Z" fill="url(#tgr)" stroke="#6a2a24" stroke-width="0.35" stroke-linejoin="round"/>
<path d="M328.80,93.38L335.80,93.38L332.30,99.82Z" fill="url(#tgr)" stroke="#6a2a24" stroke-width="0.5" stroke-linejoin="round"/>
<path d="M351.90,117.38L358.90,117.38L355.40,123.82Z" fill="url(#tgr)" stroke="#6a2a24" stroke-width="0.5" stroke-linejoin="round"/>
<path d="M315.00,75.38L322.00,75.38L318.50,81.82Z" fill="url(#tgy)" stroke="#8a7034" stroke-width="0.5" stroke-linejoin="round"/>
<path d="M320.10,74.28L327.10,74.28L323.60,80.72Z" fill="url(#tgo)" stroke="#7a4a28" stroke-width="0.5" stroke-linejoin="round"/>
<path d="M324.70,72.34L328.30,72.34L326.50,75.66Z" fill="url(#tgo)" stroke="#7a4a28" stroke-width="0.35" stroke-linejoin="round"/>
<path d="M328.80,75.38L335.80,75.38L332.30,81.82Z" fill="url(#tgo)" stroke="#7a4a28" stroke-width="0.5" stroke-linejoin="round"/>
<path d="M334.50,76.44L338.10,76.44L336.30,79.76Z" fill="url(#tgr)" stroke="#6a2a24" stroke-width="0.35" stroke-linejoin="round"/>
<path d="M342.60,83.48L349.60,83.48L346.10,89.92Z" fill="url(#tgr)" stroke="#6a2a24" stroke-width="0.5" stroke-linejoin="round"/>
<path d="M354.70,74.74L358.30,74.74L356.50,78.06Z" fill="url(#tgr)" stroke="#6a2a24" stroke-width="0.35" stroke-linejoin="round"/>
<path d="M303.40,84.68L310.40,84.68L306.90,91.12Z" fill="url(#tgy)" stroke="#8a7034" stroke-width="0.5" stroke-linejoin="round"/>
<path d="M316.10,83.48L323.10,83.48L319.60,89.92Z" fill="url(#tga)" stroke="#8a6034" stroke-width="0.5" stroke-linejoin="round"/>
<path d="M319.50,83.94L323.10,83.94L321.30,87.26Z" fill="url(#tga)" stroke="#8a6034" stroke-width="0.35" stroke-linejoin="round"/>
<path d="M292.20,80.44L295.80,80.44L294.00,83.76Z" fill="url(#tgo)" stroke="#7a4a28" stroke-width="0.35" stroke-linejoin="round"/>
<path d="M295.70,85.88L302.70,85.88L299.20,92.32Z" fill="url(#tgo)" stroke="#7a4a28" stroke-width="0.5" stroke-linejoin="round"/>
<path d="M301.10,90.38L308.10,90.38L304.60,96.82Z" fill="url(#tgo)" stroke="#7a4a28" stroke-width="0.5" stroke-linejoin="round"/>
<path d="M303.50,85.88L310.50,85.88L307.00,92.32Z" fill="url(#tgy)" stroke="#8a7034" stroke-width="0.5" stroke-linejoin="round"/>
<path d="M305.70,95.08L312.70,95.08L309.20,101.52Z" fill="url(#tgy)" stroke="#8a7034" stroke-width="0.5" stroke-linejoin="round"/>
<path d="M307.30,96.58L314.30,96.58L310.80,103.02Z" fill="url(#tga)" stroke="#8a6034" stroke-width="0.5" stroke-linejoin="round"/>
<path d="M312.80,95.94L316.40,95.94L314.60,99.26Z" fill="url(#tgr)" stroke="#6a2a24" stroke-width="0.35" stroke-linejoin="round"/>
<path d="M315.70,83.38L322.70,83.38L319.20,89.82Z" fill="url(#tgy)" stroke="#8a7034" stroke-width="0.5" stroke-linejoin="round"/>
<path d="M317.30,88.88L324.30,88.88L320.80,95.32Z" fill="url(#tgy)" stroke="#8a7034" stroke-width="0.5" stroke-linejoin="round"/>
<path d="M320.30,87.38L327.30,87.38L323.80,93.82Z" fill="url(#tgo)" stroke="#7a4a28" stroke-width="0.5" stroke-linejoin="round"/>
<path d="M323.50,91.38L330.50,91.38L327.00,97.82Z" fill="url(#tgo)" stroke="#7a4a28" stroke-width="0.5" stroke-linejoin="round"/>
<path d="M327.30,93.38L334.30,93.38L330.80,99.82Z" fill="url(#tgr)" stroke="#6a2a24" stroke-width="0.5" stroke-linejoin="round"/>
<path d="M329.50,92.78L336.50,92.78L333.00,99.22Z" fill="url(#tgr)" stroke="#6a2a24" stroke-width="0.5" stroke-linejoin="round"/>
<path d="M320.30,98.88L327.30,98.88L323.80,105.32Z" fill="url(#tgo)" stroke="#7a4a28" stroke-width="0.5" stroke-linejoin="round"/>
<path d="M323.60,97.44L327.20,97.44L325.40,100.76Z" fill="url(#tgo)" stroke="#7a4a28" stroke-width="0.35" stroke-linejoin="round"/>
<path d="M295.90,98.94L299.50,98.94L297.70,102.26Z" fill="url(#tgy)" stroke="#8a7034" stroke-width="0.35" stroke-linejoin="round"/>
<path d="M275.00,103.38L282.00,103.38L278.50,109.82Z" fill="url(#tgy)" stroke="#8a7034" stroke-width="0.5" stroke-linejoin="round"/>
<path d="M282.00,103.54L285.60,103.54L283.80,106.86Z" fill="url(#tgy)" stroke="#8a7034" stroke-width="0.35" stroke-linejoin="round"/>
<path d="M275.00,109.68L282.00,109.68L278.50,116.12Z" fill="url(#tgy)" stroke="#8a7034" stroke-width="0.5" stroke-linejoin="round"/>
<path d="M275.70,113.38L282.70,113.38L279.20,119.82Z" fill="url(#tgy)" stroke="#8a7034" stroke-width="0.5" stroke-linejoin="round"/>
<path d="M290.00,106.58L297.00,106.58L293.50,113.02Z" fill="url(#tgy)" stroke="#8a7034" stroke-width="0.5" stroke-linejoin="round"/>
<path d="M295.70,111.98L302.70,111.98L299.20,118.42Z" fill="url(#tgy)" stroke="#8a7034" stroke-width="0.5" stroke-linejoin="round"/>
<path d="M290.30,115.88L297.30,115.88L293.80,122.32Z" fill="url(#tgy)" stroke="#8a7034" stroke-width="0.5" stroke-linejoin="round"/>
<path d="M293.60,114.94L297.20,114.94L295.40,118.26Z" fill="url(#tgo)" stroke="#7a4a28" stroke-width="0.35" stroke-linejoin="round"/>
<path d="M305.60,109.74L309.20,109.74L307.40,113.06Z" fill="url(#tgy)" stroke="#8a7034" stroke-width="0.35" stroke-linejoin="round"/>
<path d="M308.00,106.58L315.00,106.58L311.50,113.02Z" fill="url(#tgr)" stroke="#6a2a24" stroke-width="0.5" stroke-linejoin="round"/>
<path d="M310.30,108.18L317.30,108.18L313.80,114.62Z" fill="url(#tga)" stroke="#8a6034" stroke-width="0.5" stroke-linejoin="round"/>
<path d="M284.20,124.94L287.80,124.94L286.00,128.26Z" fill="url(#tgy)" stroke="#8a7034" stroke-width="0.35" stroke-linejoin="round"/>
<path d="M332.80,108.14L336.40,108.14L334.60,111.46Z" fill="url(#tgr)" stroke="#6a2a24" stroke-width="0.35" stroke-linejoin="round"/>
<path d="M332.00,114.94L335.60,114.94L333.80,118.26Z" fill="url(#tgr)" stroke="#6a2a24" stroke-width="0.35" stroke-linejoin="round"/>
<path d="M328.80,119.68L335.80,119.68L332.30,126.12Z" fill="url(#tgr)" stroke="#6a2a24" stroke-width="0.5" stroke-linejoin="round"/>
<path d="M331.90,121.98L338.90,121.98L335.40,128.42Z" fill="url(#tgr)" stroke="#6a2a24" stroke-width="0.5" stroke-linejoin="round"/>
<path d="M308.60,106.08L315.60,106.08L312.10,112.52Z" fill="url(#tgr)" stroke="#6a2a24" stroke-width="0.5" stroke-linejoin="round"/>
<path d="M309.50,108.88L316.50,108.88L313.00,115.32Z" fill="url(#tgy)" stroke="#8a7034" stroke-width="0.5" stroke-linejoin="round"/>
<path d="M284.40,124.94L288.00,124.94L286.20,128.26Z" fill="url(#tgy)" stroke="#8a7034" stroke-width="0.35" stroke-linejoin="round"/>
<path d="M284.00,129.74L287.60,129.74L285.80,133.06Z" fill="url(#tgo)" stroke="#7a4a28" stroke-width="0.35" stroke-linejoin="round"/>
<path d="M278.60,133.54L282.20,133.54L280.40,136.86Z" fill="url(#tgy)" stroke="#8a7034" stroke-width="0.35" stroke-linejoin="round"/>
<path d="M247.50,149.38L254.50,149.38L251.00,155.82Z" fill="url(#tgr)" stroke="#6a2a24" stroke-width="0.5" stroke-linejoin="round"/>
<path d="M245.70,154.68L252.70,154.68L249.20,161.12Z" fill="url(#tgy)" stroke="#8a7034" stroke-width="0.5" stroke-linejoin="round"/>
<path d="M253.60,154.74L257.20,154.74L255.40,158.06Z" fill="url(#tgy)" stroke="#8a7034" stroke-width="0.35" stroke-linejoin="round"/>
<path d="M249.00,161.78L256.00,161.78L252.50,168.22Z" fill="url(#tgy)" stroke="#8a7034" stroke-width="0.5" stroke-linejoin="round"/>
<path d="M238.50,164.68L245.50,164.68L242.00,171.12Z" fill="url(#tgy)" stroke="#8a7034" stroke-width="0.5" stroke-linejoin="round"/>
<path d="M236.20,170.14L239.80,170.14L238.00,173.46Z" fill="url(#tgy)" stroke="#8a7034" stroke-width="0.35" stroke-linejoin="round"/>
<path d="M253.80,170.38L260.80,170.38L257.30,176.82Z" fill="url(#tgy)" stroke="#8a7034" stroke-width="0.5" stroke-linejoin="round"/>
<path d="M272.10,155.08L279.10,155.08L275.60,161.52Z" fill="url(#tgy)" stroke="#8a7034" stroke-width="0.5" stroke-linejoin="round"/>
<path d="M282.30,146.38L289.30,146.38L285.80,152.82Z" fill="url(#tgy)" stroke="#8a7034" stroke-width="0.5" stroke-linejoin="round"/>
<path d="M238.60,164.88L245.60,164.88L242.10,171.32Z" fill="url(#tgy)" stroke="#8a7034" stroke-width="0.5" stroke-linejoin="round"/>
<path d="M238.40,168.34L242.00,168.34L240.20,171.66Z" fill="url(#tgy)" stroke="#8a7034" stroke-width="0.35" stroke-linejoin="round"/>
<path d="M234.50,170.24L238.10,170.24L236.30,173.56Z" fill="url(#tga)" stroke="#8a6034" stroke-width="0.35" stroke-linejoin="round"/>
<path d="M253.00,171.58L260.00,171.58L256.50,178.02Z" fill="url(#tgy)" stroke="#8a7034" stroke-width="0.5" stroke-linejoin="round"/>
<path d="M221.90,178.38L228.90,178.38L225.40,184.82Z" fill="url(#tgy)" stroke="#8a7034" stroke-width="0.5" stroke-linejoin="round"/>
<path d="M229.00,178.38L236.00,178.38L232.50,184.82Z" fill="url(#tgy)" stroke="#8a7034" stroke-width="0.5" stroke-linejoin="round"/>
<path d="M234.80,182.18L241.80,182.18L238.30,188.62Z" fill="url(#tgy)" stroke="#8a7034" stroke-width="0.5" stroke-linejoin="round"/>
<path d="M242.50,178.38L249.50,178.38L246.00,184.82Z" fill="url(#tgy)" stroke="#8a7034" stroke-width="0.5" stroke-linejoin="round"/>
<path d="M250.20,183.18L257.20,183.18L253.70,189.62Z" fill="url(#tgy)" stroke="#8a7034" stroke-width="0.5" stroke-linejoin="round"/>
<path d="M224.20,187.98L231.20,187.98L227.70,194.42Z" fill="url(#tgy)" stroke="#8a7034" stroke-width="0.5" stroke-linejoin="round"/>
<path d="M226.90,194.34L230.50,194.34L228.70,197.66Z" fill="url(#tgy)" stroke="#8a7034" stroke-width="0.35" stroke-linejoin="round"/>
<path d="M230.90,195.68L237.90,195.68L234.40,202.12Z" fill="url(#tga)" stroke="#8a6034" stroke-width="0.5" stroke-linejoin="round"/>
<path d="M235.70,198.58L242.70,198.58L239.20,205.02Z" fill="url(#tga)" stroke="#8a6034" stroke-width="0.5" stroke-linejoin="round"/>
<path d="M229.00,200.38L236.00,200.38L232.50,206.82Z" fill="url(#tgy)" stroke="#8a7034" stroke-width="0.5" stroke-linejoin="round"/>
<path d="M220.10,200.14L223.70,200.14L221.90,203.46Z" fill="url(#tga)" stroke="#8a6034" stroke-width="0.35" stroke-linejoin="round"/>
<path d="M217.20,204.94L220.80,204.94L219.00,208.26Z" fill="url(#tga)" stroke="#8a6034" stroke-width="0.35" stroke-linejoin="round"/>
<path d="M245.20,200.94L248.80,200.94L247.00,204.26Z" fill="url(#tgy)" stroke="#8a7034" stroke-width="0.35" stroke-linejoin="round"/>
<path d="M234.20,206.18L241.20,206.18L237.70,212.62Z" fill="url(#tgy)" stroke="#8a7034" stroke-width="0.5" stroke-linejoin="round"/>
<path d="M216.50,208.18L223.50,208.18L220.00,214.62Z" fill="url(#tgy)" stroke="#8a7034" stroke-width="0.5" stroke-linejoin="round"/>
<path d="M224.00,209.74L227.60,209.74L225.80,213.06Z" fill="url(#tga)" stroke="#8a6034" stroke-width="0.35" stroke-linejoin="round"/>
<path d="M203.00,209.08L210.00,209.08L206.50,215.52Z" fill="url(#tgy)" stroke="#8a7034" stroke-width="0.5" stroke-linejoin="round"/>
<path d="M212.40,213.54L216.00,213.54L214.20,216.86Z" fill="url(#tgy)" stroke="#8a7034" stroke-width="0.35" stroke-linejoin="round"/>
<path d="M214.50,213.88L221.50,213.88L218.00,220.32Z" fill="url(#tgy)" stroke="#8a7034" stroke-width="0.5" stroke-linejoin="round"/>
<path d="M221.30,213.88L228.30,213.88L224.80,220.32Z" fill="url(#tgy)" stroke="#8a7034" stroke-width="0.5" stroke-linejoin="round"/>
<path d="M241.20,216.44L244.80,216.44L243.00,219.76Z" fill="url(#tgy)" stroke="#8a7034" stroke-width="0.35" stroke-linejoin="round"/>
<path d="M217.50,219.68L224.50,219.68L221.00,226.12Z" fill="url(#tgy)" stroke="#8a7034" stroke-width="0.5" stroke-linejoin="round"/>
<path d="M204.70,220.24L208.30,220.24L206.50,223.56Z" fill="url(#tgy)" stroke="#8a7034" stroke-width="0.35" stroke-linejoin="round"/>
<path d="M209.50,227.94L213.10,227.94L211.30,231.26Z" fill="url(#tgy)" stroke="#8a7034" stroke-width="0.35" stroke-linejoin="round"/>
<path d="M224.90,225.14L228.50,225.14L226.70,228.46Z" fill="url(#tgy)" stroke="#8a7034" stroke-width="0.35" stroke-linejoin="round"/>
<path d="M209.50,213.14L213.10,213.14L211.30,216.46Z" fill="url(#tgy)" stroke="#8a7034" stroke-width="0.35" stroke-linejoin="round"/>
<path d="M212.70,212.58L219.70,212.58L216.20,219.02Z" fill="url(#tga)" stroke="#8a6034" stroke-width="0.5" stroke-linejoin="round"/>
<path d="M216.10,207.78L223.10,207.78L219.60,214.22Z" fill="url(#tgy)" stroke="#8a7034" stroke-width="0.5" stroke-linejoin="round"/>
<path d="M218.60,202.64L222.20,202.64L220.40,205.96Z" fill="url(#tga)" stroke="#8a6034" stroke-width="0.35" stroke-linejoin="round"/>
<path d="M224.90,207.44L228.50,207.44L226.70,210.76Z" fill="url(#tgy)" stroke="#8a7034" stroke-width="0.35" stroke-linejoin="round"/>
<path d="M230.00,201.08L237.00,201.08L233.50,207.52Z" fill="url(#tga)" stroke="#8a6034" stroke-width="0.5" stroke-linejoin="round"/>
<path d="M233.80,205.88L240.80,205.88L237.30,212.32Z" fill="url(#tgy)" stroke="#8a7034" stroke-width="0.5" stroke-linejoin="round"/>
<path d="M235.70,197.18L242.70,197.18L239.20,203.62Z" fill="url(#tga)" stroke="#8a6034" stroke-width="0.5" stroke-linejoin="round"/>
<path d="M225.90,196.84L229.50,196.84L227.70,200.16Z" fill="url(#tga)" stroke="#8a6034" stroke-width="0.35" stroke-linejoin="round"/>
<path d="M207.80,227.98L214.80,227.98L211.30,234.42Z" fill="url(#tgy)" stroke="#8a7034" stroke-width="0.5" stroke-linejoin="round"/>
<path d="M217.20,222.74L220.80,222.74L219.00,226.06Z" fill="url(#tgy)" stroke="#8a7034" stroke-width="0.35" stroke-linejoin="round"/>
<path d="M210.70,216.38L217.70,216.38L214.20,222.82Z" fill="url(#tga)" stroke="#8a6034" stroke-width="0.5" stroke-linejoin="round"/>
<path d="M222.30,214.48L229.30,214.48L225.80,220.92Z" fill="url(#tgy)" stroke="#8a7034" stroke-width="0.5" stroke-linejoin="round"/>
<path d="M156.10,98.38L163.10,98.38L159.60,104.82Z" fill="url(#tgr)" stroke="#6a2a24" stroke-width="0.5" stroke-linejoin="round"/>
<path d="M178.00,101.68L185.00,101.68L181.50,108.12Z" fill="url(#tgr)" stroke="#6a2a24" stroke-width="0.5" stroke-linejoin="round"/>
<path d="M175.20,106.24L178.80,106.24L177.00,109.56Z" fill="url(#tgr)" stroke="#6a2a24" stroke-width="0.35" stroke-linejoin="round"/>
<path d="M188.50,103.94L192.10,103.94L190.30,107.26Z" fill="url(#tgr)" stroke="#6a2a24" stroke-width="0.35" stroke-linejoin="round"/>
<path d="M186.10,110.88L193.10,110.88L189.60,117.32Z" fill="url(#tgr)" stroke="#6a2a24" stroke-width="0.5" stroke-linejoin="round"/>
<path d="M202.30,91.98L209.30,91.98L205.80,98.42Z" fill="url(#tgr)" stroke="#6a2a24" stroke-width="0.5" stroke-linejoin="round"/>
<path d="M198.70,87.74L202.30,87.74L200.50,91.06Z" fill="url(#tgr)" stroke="#6a2a24" stroke-width="0.35" stroke-linejoin="round"/>
<path d="M227.50,103.38L234.50,103.38L231.00,109.82Z" fill="url(#tgr)" stroke="#6a2a24" stroke-width="0.5" stroke-linejoin="round"/>
<path d="M241.50,121.38L248.50,121.38L245.00,127.82Z" fill="url(#tgr)" stroke="#6a2a24" stroke-width="0.5" stroke-linejoin="round"/>
<path d="M232.80,127.74L236.40,127.74L234.60,131.06Z" fill="url(#tgr)" stroke="#6a2a24" stroke-width="0.35" stroke-linejoin="round"/>
<path d="M230.00,131.68L237.00,131.68L233.50,138.12Z" fill="url(#tgr)" stroke="#6a2a24" stroke-width="0.5" stroke-linejoin="round"/>
<path d="M205.30,126.58L212.30,126.58L208.80,133.02Z" fill="url(#tgr)" stroke="#6a2a24" stroke-width="0.5" stroke-linejoin="round"/>
<path d="M177.50,117.38L184.50,117.38L181.00,123.82Z" fill="url(#tgr)" stroke="#6a2a24" stroke-width="0.5" stroke-linejoin="round"/>
<path d="M163.70,113.88L170.70,113.88L167.20,120.32Z" fill="url(#tgr)" stroke="#6a2a24" stroke-width="0.5" stroke-linejoin="round"/>
<path d="M161.50,120.18L168.50,120.18L165.00,126.62Z" fill="url(#tgr)" stroke="#6a2a24" stroke-width="0.5" stroke-linejoin="round"/>
<path d="M171.10,128.88L178.10,128.88L174.60,135.32Z" fill="url(#tgr)" stroke="#6a2a24" stroke-width="0.5" stroke-linejoin="round"/>
<path d="M161.20,127.74L164.80,127.74L163.00,131.06Z" fill="url(#tgr)" stroke="#6a2a24" stroke-width="0.35" stroke-linejoin="round"/>
<path d="M155.50,130.44L159.10,130.44L157.30,133.76Z" fill="url(#tgr)" stroke="#6a2a24" stroke-width="0.35" stroke-linejoin="round"/>
<path d="M208.00,142.78L215.00,142.78L211.50,149.22Z" fill="url(#tgr)" stroke="#6a2a24" stroke-width="0.5" stroke-linejoin="round"/>
<path d="M140.00,101.18L147.00,101.18L143.50,107.62Z" fill="url(#tgr)" stroke="#6a2a24" stroke-width="0.5" stroke-linejoin="round"/>
<path d="M137.70,98.88L144.70,98.88L141.20,105.32Z" fill="url(#tgr)" stroke="#6a2a24" stroke-width="0.5" stroke-linejoin="round"/>
<path d="M140.00,101.78L147.00,101.78L143.50,108.22Z" fill="url(#tgr)" stroke="#6a2a24" stroke-width="0.5" stroke-linejoin="round"/>
<path d="M134.90,106.24L138.50,106.24L136.70,109.56Z" fill="url(#tgr)" stroke="#6a2a24" stroke-width="0.35" stroke-linejoin="round"/>
<path d="M140.00,111.38L147.00,111.38L143.50,117.82Z" fill="url(#tga)" stroke="#8a6034" stroke-width="0.5" stroke-linejoin="round"/>
<path d="M143.80,120.38L150.80,120.38L147.30,126.82Z" fill="url(#tgr)" stroke="#6a2a24" stroke-width="0.5" stroke-linejoin="round"/>
<path d="M138.00,122.98L145.00,122.98L141.50,129.42Z" fill="url(#tgo)" stroke="#7a4a28" stroke-width="0.5" stroke-linejoin="round"/>
<path d="M128.50,122.98L135.50,122.98L132.00,129.42Z" fill="url(#tga)" stroke="#8a6034" stroke-width="0.5" stroke-linejoin="round"/>
<path d="M135.20,126.78L142.20,126.78L138.70,133.22Z" fill="url(#tgo)" stroke="#7a4a28" stroke-width="0.5" stroke-linejoin="round"/>
<path d="M145.70,123.88L152.70,123.88L149.20,130.32Z" fill="url(#tgr)" stroke="#6a2a24" stroke-width="0.5" stroke-linejoin="round"/>
<path d="M141.90,127.78L148.90,127.78L145.40,134.22Z" fill="url(#tgo)" stroke="#7a4a28" stroke-width="0.5" stroke-linejoin="round"/>
<path d="M156.10,130.24L159.70,130.24L157.90,133.56Z" fill="url(#tgr)" stroke="#6a2a24" stroke-width="0.35" stroke-linejoin="round"/>
<path d="M162.40,127.74L166.00,127.74L164.20,131.06Z" fill="url(#tgr)" stroke="#6a2a24" stroke-width="0.35" stroke-linejoin="round"/>
<path d="M171.70,128.68L178.70,128.68L175.20,135.12Z" fill="url(#tgr)" stroke="#6a2a24" stroke-width="0.5" stroke-linejoin="round"/>
<path d="M212.80,152.44L216.40,152.44L214.60,155.76Z" fill="url(#tgr)" stroke="#6a2a24" stroke-width="0.35" stroke-linejoin="round"/>
<path d="M133.20,132.58L140.20,132.58L136.70,139.02Z" fill="url(#tga)" stroke="#8a6034" stroke-width="0.5" stroke-linejoin="round"/>
<path d="M132.30,138.38L139.30,138.38L135.80,144.82Z" fill="url(#tgo)" stroke="#7a4a28" stroke-width="0.5" stroke-linejoin="round"/>
<path d="M141.90,136.38L148.90,136.38L145.40,142.82Z" fill="url(#tgo)" stroke="#7a4a28" stroke-width="0.5" stroke-linejoin="round"/>
<path d="M142.80,142.18L149.80,142.18L146.30,148.62Z" fill="url(#tgo)" stroke="#7a4a28" stroke-width="0.5" stroke-linejoin="round"/>
<path d="M129.40,149.88L136.40,149.88L132.90,156.32Z" fill="url(#tgo)" stroke="#7a4a28" stroke-width="0.5" stroke-linejoin="round"/>
<path d="M136.90,149.54L140.50,149.54L138.70,152.86Z" fill="url(#tgo)" stroke="#7a4a28" stroke-width="0.35" stroke-linejoin="round"/>
<path d="M145.50,150.14L149.10,150.14L147.30,153.46Z" fill="url(#tgo)" stroke="#7a4a28" stroke-width="0.35" stroke-linejoin="round"/>
<path d="M227.80,103.58L234.80,103.58L231.30,110.02Z" fill="url(#tgr)" stroke="#6a2a24" stroke-width="0.5" stroke-linejoin="round"/>
<path d="M241.30,121.38L248.30,121.38L244.80,127.82Z" fill="url(#tgr)" stroke="#6a2a24" stroke-width="0.5" stroke-linejoin="round"/>
<path d="M233.00,127.44L236.60,127.44L234.80,130.76Z" fill="url(#tgr)" stroke="#6a2a24" stroke-width="0.35" stroke-linejoin="round"/>
<path d="M230.20,132.38L237.20,132.38L233.70,138.82Z" fill="url(#tgr)" stroke="#6a2a24" stroke-width="0.5" stroke-linejoin="round"/>
<path d="M107.30,125.08L114.30,125.08L110.80,131.52Z" fill="url(#tgo)" stroke="#7a4a28" stroke-width="0.5" stroke-linejoin="round"/>
<path d="M93.60,128.94L97.20,128.94L95.40,132.26Z" fill="url(#tgo)" stroke="#7a4a28" stroke-width="0.35" stroke-linejoin="round"/>
<path d="M101.20,126.64L104.80,126.64L103.00,129.96Z" fill="url(#tga)" stroke="#8a6034" stroke-width="0.35" stroke-linejoin="round"/>
<path d="M128.00,122.78L135.00,122.78L131.50,129.22Z" fill="url(#tgo)" stroke="#7a4a28" stroke-width="0.5" stroke-linejoin="round"/>
<path d="M135.00,124.38L142.00,124.38L138.50,130.82Z" fill="url(#tgr)" stroke="#6a2a24" stroke-width="0.5" stroke-linejoin="round"/>
<path d="M70.50,137.44L74.10,137.44L72.30,140.76Z" fill="url(#tgp)" stroke="#a09060" stroke-width="0.35" stroke-linejoin="round"/>
<path d="M82.00,137.44L85.60,137.44L83.80,140.76Z" fill="url(#tgp)" stroke="#a09060" stroke-width="0.35" stroke-linejoin="round"/>
<path d="M94.80,137.44L98.40,137.44L96.60,140.76Z" fill="url(#tga)" stroke="#8a6034" stroke-width="0.35" stroke-linejoin="round"/>
<path d="M100.30,135.08L107.30,135.08L103.80,141.52Z" fill="url(#tgo)" stroke="#7a4a28" stroke-width="0.5" stroke-linejoin="round"/>
<path d="M107.30,133.38L114.30,133.38L110.80,139.82Z" fill="url(#tga)" stroke="#8a6034" stroke-width="0.5" stroke-linejoin="round"/>
<path d="M110.30,140.38L117.30,140.38L113.80,146.82Z" fill="url(#tgo)" stroke="#7a4a28" stroke-width="0.5" stroke-linejoin="round"/>
<path d="M104.20,142.78L111.20,142.78L107.70,149.22Z" fill="url(#tgo)" stroke="#7a4a28" stroke-width="0.5" stroke-linejoin="round"/>
<path d="M95.70,141.98L102.70,141.98L99.20,148.42Z" fill="url(#tgo)" stroke="#7a4a28" stroke-width="0.5" stroke-linejoin="round"/>
<path d="M90.50,144.34L94.10,144.34L92.30,147.66Z" fill="url(#tgo)" stroke="#7a4a28" stroke-width="0.35" stroke-linejoin="round"/>
<path d="M118.00,138.88L125.00,138.88L121.50,145.32Z" fill="url(#tgo)" stroke="#7a4a28" stroke-width="0.5" stroke-linejoin="round"/>
<path d="M121.10,133.38L128.10,133.38L124.60,139.82Z" fill="url(#tgo)" stroke="#7a4a28" stroke-width="0.5" stroke-linejoin="round"/>
<path d="M131.90,131.98L138.90,131.98L135.40,138.42Z" fill="url(#tga)" stroke="#8a6034" stroke-width="0.5" stroke-linejoin="round"/>
<path d="M132.70,138.18L139.70,138.18L136.20,144.62Z" fill="url(#tgo)" stroke="#7a4a28" stroke-width="0.5" stroke-linejoin="round"/>
<path d="M128.80,148.88L135.80,148.88L132.30,155.32Z" fill="url(#tgo)" stroke="#7a4a28" stroke-width="0.5" stroke-linejoin="round"/>
<path d="M97.30,146.58L104.30,146.58L100.80,153.02Z" fill="url(#tga)" stroke="#8a6034" stroke-width="0.5" stroke-linejoin="round"/>
<path d="M108.80,151.98L115.80,151.98L112.30,158.42Z" fill="url(#tga)" stroke="#8a6034" stroke-width="0.5" stroke-linejoin="round"/>
<path d="M98.80,154.38L105.80,154.38L102.30,160.82Z" fill="url(#tge)" stroke="#987040" stroke-width="0.5" stroke-linejoin="round"/>
<path d="M114.40,150.14L118.00,150.14L116.20,153.46Z" fill="url(#tga)" stroke="#8a6034" stroke-width="0.35" stroke-linejoin="round"/>
<path d="M91.20,154.94L94.80,154.94L93.00,158.26Z" fill="url(#tga)" stroke="#8a6034" stroke-width="0.35" stroke-linejoin="round"/>
<path d="M81.20,149.74L84.80,149.74L83.00,153.06Z" fill="url(#tgp)" stroke="#a09060" stroke-width="0.35" stroke-linejoin="round"/>
<path d="M116.50,156.58L123.50,156.58L120.00,163.02Z" fill="url(#tge)" stroke="#987040" stroke-width="0.5" stroke-linejoin="round"/>
<path d="M127.30,160.38L134.30,160.38L130.80,166.82Z" fill="url(#tgp)" stroke="#a09060" stroke-width="0.5" stroke-linejoin="round"/>
<path d="M95.00,161.98L102.00,161.98L98.50,168.42Z" fill="url(#tgo)" stroke="#7a4a28" stroke-width="0.5" stroke-linejoin="round"/>
<path d="M75.70,156.58L82.70,156.58L79.20,163.02Z" fill="url(#tgp)" stroke="#a09060" stroke-width="0.5" stroke-linejoin="round"/>
<path d="M100.70,134.28L107.70,134.28L104.20,140.72Z" fill="url(#tgo)" stroke="#7a4a28" stroke-width="0.5" stroke-linejoin="round"/>
<path d="M107.70,133.58L114.70,133.58L111.20,140.02Z" fill="url(#tga)" stroke="#8a6034" stroke-width="0.5" stroke-linejoin="round"/>
<path d="M104.60,141.98L111.60,141.98L108.10,148.42Z" fill="url(#tgo)" stroke="#7a4a28" stroke-width="0.5" stroke-linejoin="round"/>
<path d="M110.70,141.18L117.70,141.18L114.20,147.62Z" fill="url(#tgo)" stroke="#7a4a28" stroke-width="0.5" stroke-linejoin="round"/>
<path d="M116.10,138.88L123.10,138.88L119.60,145.32Z" fill="url(#tgo)" stroke="#7a4a28" stroke-width="0.5" stroke-linejoin="round"/>
<path d="M120.00,135.08L127.00,135.08L123.50,141.52Z" fill="url(#tga)" stroke="#8a6034" stroke-width="0.5" stroke-linejoin="round"/>
<path d="M133.00,132.78L140.00,132.78L136.50,139.22Z" fill="url(#tgo)" stroke="#7a4a28" stroke-width="0.5" stroke-linejoin="round"/>
<path d="M134.60,138.88L141.60,138.88L138.10,145.32Z" fill="url(#tgo)" stroke="#7a4a28" stroke-width="0.5" stroke-linejoin="round"/>
<path d="M142.30,135.88L149.30,135.88L145.80,142.32Z" fill="url(#tgo)" stroke="#7a4a28" stroke-width="0.5" stroke-linejoin="round"/>
<path d="M144.60,141.98L151.60,141.98L148.10,148.42Z" fill="url(#tgo)" stroke="#7a4a28" stroke-width="0.5" stroke-linejoin="round"/>
<path d="M142.30,128.88L149.30,128.88L145.80,135.32Z" fill="url(#tgo)" stroke="#7a4a28" stroke-width="0.5" stroke-linejoin="round"/>
<path d="M96.10,142.78L103.10,142.78L99.60,149.22Z" fill="url(#tga)" stroke="#8a6034" stroke-width="0.5" stroke-linejoin="round"/>
<path d="M97.70,148.18L104.70,148.18L101.20,154.62Z" fill="url(#tga)" stroke="#8a6034" stroke-width="0.5" stroke-linejoin="round"/>
<path d="M108.40,152.78L115.40,152.78L111.90,159.22Z" fill="url(#tge)" stroke="#987040" stroke-width="0.5" stroke-linejoin="round"/>
<path d="M98.40,154.28L105.40,154.28L101.90,160.72Z" fill="url(#tgp)" stroke="#a09060" stroke-width="0.5" stroke-linejoin="round"/>
<path d="M130.00,150.48L137.00,150.48L133.50,156.92Z" fill="url(#tgo)" stroke="#7a4a28" stroke-width="0.5" stroke-linejoin="round"/>
<path d="M127.80,150.44L131.40,150.44L129.60,153.76Z" fill="url(#tgo)" stroke="#7a4a28" stroke-width="0.35" stroke-linejoin="round"/>
<path d="M137.80,149.74L141.40,149.74L139.60,153.06Z" fill="url(#tgo)" stroke="#7a4a28" stroke-width="0.35" stroke-linejoin="round"/>
<path d="M144.70,150.44L148.30,150.44L146.50,153.76Z" fill="url(#tgo)" stroke="#7a4a28" stroke-width="0.35" stroke-linejoin="round"/>
<path d="M117.70,157.38L124.70,157.38L121.20,163.82Z" fill="url(#tga)" stroke="#8a6034" stroke-width="0.5" stroke-linejoin="round"/>
<path d="M127.70,160.48L134.70,160.48L131.20,166.92Z" fill="url(#tgp)" stroke="#a09060" stroke-width="0.5" stroke-linejoin="round"/>
<path d="M96.10,163.58L103.10,163.58L99.60,170.02Z" fill="url(#tga)" stroke="#8a6034" stroke-width="0.5" stroke-linejoin="round"/>
<path d="M103.20,161.24L106.80,161.24L105.00,164.56Z" fill="url(#tga)" stroke="#8a6034" stroke-width="0.35" stroke-linejoin="round"/>
<path d="M97.70,170.48L104.70,170.48L101.20,176.92Z" fill="url(#tge)" stroke="#987040" stroke-width="0.5" stroke-linejoin="round"/>
<path d="M95.50,172.74L99.10,172.74L97.30,176.06Z" fill="url(#tgp)" stroke="#a09060" stroke-width="0.35" stroke-linejoin="round"/>
<path d="M113.20,165.84L116.80,165.84L115.00,169.16Z" fill="url(#tga)" stroke="#8a6034" stroke-width="0.35" stroke-linejoin="round"/>
<path d="M155.50,130.44L159.10,130.44L157.30,133.76Z" fill="url(#tgr)" stroke="#6a2a24" stroke-width="0.35" stroke-linejoin="round"/>
<path d="M137.20,98.68L144.20,98.68L140.70,105.12Z" fill="url(#tgr)" stroke="#6a2a24" stroke-width="0.5" stroke-linejoin="round"/>
<path d="M143.00,120.68L150.00,120.68L146.50,127.12Z" fill="url(#tgr)" stroke="#6a2a24" stroke-width="0.5" stroke-linejoin="round"/>
<path d="M135.50,125.28L142.50,125.28L139.00,131.72Z" fill="url(#tgo)" stroke="#7a4a28" stroke-width="0.5" stroke-linejoin="round"/>
<path d="M138.40,123.48L145.40,123.48L141.90,129.92Z" fill="url(#tgo)" stroke="#7a4a28" stroke-width="0.5" stroke-linejoin="round"/>
<path d="M58.00,168.18L65.00,168.18L61.50,174.62Z" fill="url(#tgp)" stroke="#a09060" stroke-width="0.5" stroke-linejoin="round"/>
<path d="M61.90,169.68L68.90,169.68L65.40,176.12Z" fill="url(#tgp)" stroke="#a09060" stroke-width="0.5" stroke-linejoin="round"/>
<path d="M63.50,171.98L70.50,171.98L67.00,178.42Z" fill="url(#tgp)" stroke="#a09060" stroke-width="0.5" stroke-linejoin="round"/>
<path d="M73.50,168.88L80.50,168.88L77.00,175.32Z" fill="url(#tgp)" stroke="#a09060" stroke-width="0.5" stroke-linejoin="round"/>
<path d="M74.20,171.98L81.20,171.98L77.70,178.42Z" fill="url(#tgp)" stroke="#a09060" stroke-width="0.5" stroke-linejoin="round"/>
<path d="M75.00,156.58L82.00,156.58L78.50,163.02Z" fill="url(#tgp)" stroke="#a09060" stroke-width="0.5" stroke-linejoin="round"/>
<path d="M97.30,148.88L104.30,148.88L100.80,155.32Z" fill="url(#tgo)" stroke="#7a4a28" stroke-width="0.5" stroke-linejoin="round"/>
<path d="M98.80,154.38L105.80,154.38L102.30,160.82Z" fill="url(#tga)" stroke="#8a6034" stroke-width="0.5" stroke-linejoin="round"/>
<path d="M107.30,153.58L114.30,153.58L110.80,160.02Z" fill="url(#tga)" stroke="#8a6034" stroke-width="0.5" stroke-linejoin="round"/>
<path d="M116.50,156.58L123.50,156.58L120.00,163.02Z" fill="url(#tga)" stroke="#8a6034" stroke-width="0.5" stroke-linejoin="round"/>
<path d="M118.80,159.68L125.80,159.68L122.30,166.12Z" fill="url(#tga)" stroke="#8a6034" stroke-width="0.5" stroke-linejoin="round"/>
<path d="M95.70,162.78L102.70,162.78L99.20,169.22Z" fill="url(#tgo)" stroke="#7a4a28" stroke-width="0.5" stroke-linejoin="round"/>
<path d="M93.50,165.88L100.50,165.88L97.00,172.32Z" fill="url(#tga)" stroke="#8a6034" stroke-width="0.5" stroke-linejoin="round"/>
<path d="M97.30,169.68L104.30,169.68L100.80,176.12Z" fill="url(#tga)" stroke="#8a6034" stroke-width="0.5" stroke-linejoin="round"/>
<path d="M99.50,186.58L106.50,186.58L103.00,193.02Z" fill="url(#tgp)" stroke="#a09060" stroke-width="0.5" stroke-linejoin="round"/>
<path d="M106.50,188.18L113.50,188.18L110.00,194.62Z" fill="url(#tgg)" stroke="#6a9a80" stroke-width="0.5" stroke-linejoin="round"/>
<path d="M86.50,178.18L93.50,178.18L90.00,184.62Z" fill="url(#tga)" stroke="#8a6034" stroke-width="0.5" stroke-linejoin="round"/>
<path d="M81.20,181.24L84.80,181.24L83.00,184.56Z" fill="url(#tgp)" stroke="#a09060" stroke-width="0.35" stroke-linejoin="round"/>
<path d="M105.70,134.68L112.70,134.68L109.20,141.12Z" fill="url(#tga)" stroke="#8a6034" stroke-width="0.5" stroke-linejoin="round"/>
<path d="M109.20,141.58L116.20,141.58L112.70,148.02Z" fill="url(#tga)" stroke="#8a6034" stroke-width="0.5" stroke-linejoin="round"/>
<path d="M80.90,149.54L84.50,149.54L82.70,152.86Z" fill="url(#tgp)" stroke="#a09060" stroke-width="0.35" stroke-linejoin="round"/>
<path d="M108.00,152.58L115.00,152.58L111.50,159.02Z" fill="url(#tgp)" stroke="#a09060" stroke-width="0.5" stroke-linejoin="round"/>
<path d="M91.30,155.84L94.90,155.84L93.10,159.16Z" fill="url(#tgp)" stroke="#a09060" stroke-width="0.35" stroke-linejoin="round"/>
<path d="M82.00,155.84L85.60,155.84L83.80,159.16Z" fill="url(#tgp)" stroke="#a09060" stroke-width="0.35" stroke-linejoin="round"/>
<path d="M85.50,156.44L89.10,156.44L87.30,159.76Z" fill="url(#tgp)" stroke="#a09060" stroke-width="0.35" stroke-linejoin="round"/>
<path d="M101.10,160.08L108.10,160.08L104.60,166.52Z" fill="url(#tgp)" stroke="#a09060" stroke-width="0.5" stroke-linejoin="round"/>
<path d="M80.30,167.94L83.90,167.94L82.10,171.26Z" fill="url(#tgg)" stroke="#6a9a80" stroke-width="0.35" stroke-linejoin="round"/>
<path d="M87.20,167.94L90.80,167.94L89.00,171.26Z" fill="url(#tgg)" stroke="#6a9a80" stroke-width="0.35" stroke-linejoin="round"/>
<path d="M97.10,169.88L104.10,169.88L100.60,176.32Z" fill="url(#tgp)" stroke="#a09060" stroke-width="0.5" stroke-linejoin="round"/>
<path d="M91.30,168.54L94.90,168.54L93.10,171.86Z" fill="url(#tgp)" stroke="#a09060" stroke-width="0.35" stroke-linejoin="round"/>
<path d="M99.50,198.88L106.50,198.88L103.00,205.32Z" fill="url(#tgd)" stroke="#333333" stroke-width="0.5" stroke-linejoin="round"/>
<path d="M92.30,228.58L99.30,228.58L95.80,235.02Z" fill="url(#tgk)" stroke="#4a4a4a" stroke-width="0.5" stroke-linejoin="round"/>
<path d="M101.20,232.94L104.80,232.94L103.00,236.26Z" fill="url(#tgk)" stroke="#4a4a4a" stroke-width="0.35" stroke-linejoin="round"/>
<path d="M117.30,227.58L124.30,227.58L120.80,234.02Z" fill="url(#tgk)" stroke="#4a4a4a" stroke-width="0.5" stroke-linejoin="round"/>
<path d="M115.30,241.08L122.30,241.08L118.80,247.52Z" fill="url(#tgk)" stroke="#4a4a4a" stroke-width="0.5" stroke-linejoin="round"/>
<path d="M113.20,230.14L116.80,230.14L115.00,233.46Z" fill="url(#tgk)" stroke="#4a4a4a" stroke-width="0.35" stroke-linejoin="round"/>
<path d="M116.70,208.54L120.30,208.54L118.50,211.86Z" fill="url(#tgk)" stroke="#4a4a4a" stroke-width="0.35" stroke-linejoin="round"/>
<path d="M135.30,214.34L138.90,214.34L137.10,217.66Z" fill="url(#tgk)" stroke="#4a4a4a" stroke-width="0.35" stroke-linejoin="round"/>
<path d="M148.80,208.54L152.40,208.54L150.60,211.86Z" fill="url(#tgk)" stroke="#4a4a4a" stroke-width="0.35" stroke-linejoin="round"/>
<path d="M161.50,214.08L168.50,214.08L165.00,220.52Z" fill="url(#tgk)" stroke="#4a4a4a" stroke-width="0.5" stroke-linejoin="round"/>
<path d="M193.00,209.68L200.00,209.68L196.50,216.12Z" fill="url(#tgd)" stroke="#333333" stroke-width="0.5" stroke-linejoin="round"/>
<path d="M191.10,231.78L198.10,231.78L194.60,238.22Z" fill="url(#tgk)" stroke="#4a4a4a" stroke-width="0.5" stroke-linejoin="round"/>
<path d="M169.50,280.68L176.50,280.68L173.00,287.12Z" fill="url(#tgk)" stroke="#4a4a4a" stroke-width="0.5" stroke-linejoin="round"/>
<path d="M154.20,280.68L161.20,280.68L157.70,287.12Z" fill="url(#tgk)" stroke="#4a4a4a" stroke-width="0.5" stroke-linejoin="round"/>
<path d="M170.50,259.38L177.50,259.38L174.00,265.82Z" fill="url(#tgk)" stroke="#4a4a4a" stroke-width="0.5" stroke-linejoin="round"/>
<path d="M183.80,295.64L187.40,295.64L185.60,298.96Z" fill="url(#tgk)" stroke="#4a4a4a" stroke-width="0.35" stroke-linejoin="round"/>
<path d="M222.20,257.24L225.80,257.24L224.00,260.56Z" fill="url(#tgk)" stroke="#4a4a4a" stroke-width="0.35" stroke-linejoin="round"/>
<path d="M224.20,267.74L227.80,267.74L226.00,271.06Z" fill="url(#tgk)" stroke="#4a4a4a" stroke-width="0.35" stroke-linejoin="round"/>
<path d="M151.10,260.44L154.70,260.44L152.90,263.76Z" fill="url(#tgk)" stroke="#4a4a4a" stroke-width="0.35" stroke-linejoin="round"/>
<path d="M222.00,256.44L225.60,256.44L223.80,259.76Z" fill="url(#tgk)" stroke="#4a4a4a" stroke-width="0.35" stroke-linejoin="round"/>
<path d="M130.30,228.18L137.30,228.18L133.80,234.62Z" fill="url(#tgm)" stroke="#5a0f2a" stroke-width="0.5" stroke-linejoin="round"/>
<path d="M182.70,243.88L189.70,243.88L186.20,250.32Z" fill="url(#tgm)" stroke="#5a0f2a" stroke-width="0.5" stroke-linejoin="round"/>
<path d="M195.30,238.58L202.30,238.58L198.80,245.02Z" fill="url(#tgm)" stroke="#5a0f2a" stroke-width="0.5" stroke-linejoin="round"/>
<path d="M244.40,234.68L251.40,234.68L247.90,241.12Z" fill="url(#tgm)" stroke="#5a0f2a" stroke-width="0.5" stroke-linejoin="round"/>
<path d="M181.90,243.38L188.90,243.38L185.40,249.82Z" fill="url(#tgm)" stroke="#5a0f2a" stroke-width="0.5" stroke-linejoin="round"/>
<path d="M184.20,246.18L191.20,246.18L187.70,252.62Z" fill="url(#tgm)" stroke="#5a0f2a" stroke-width="0.5" stroke-linejoin="round"/>
<path d="M196.30,246.18L203.30,246.18L199.80,252.62Z" fill="url(#tgm)" stroke="#5a0f2a" stroke-width="0.5" stroke-linejoin="round"/>
<path d="M205.00,249.08L212.00,249.08L208.50,255.52Z" fill="url(#tgm)" stroke="#5a0f2a" stroke-width="0.5" stroke-linejoin="round"/>
<path d="M209.80,247.18L216.80,247.18L213.30,253.62Z" fill="url(#tgm)" stroke="#5a0f2a" stroke-width="0.5" stroke-linejoin="round"/>
<path d="M220.30,244.38L227.30,244.38L223.80,250.82Z" fill="url(#tgm)" stroke="#5a0f2a" stroke-width="0.5" stroke-linejoin="round"/>
<path d="M222.30,248.18L229.30,248.18L225.80,254.62Z" fill="url(#tgm)" stroke="#5a0f2a" stroke-width="0.5" stroke-linejoin="round"/>
<path d="M229.00,250.08L236.00,250.08L232.50,256.52Z" fill="url(#tgm)" stroke="#5a0f2a" stroke-width="0.5" stroke-linejoin="round"/>
<path d="M234.50,256.44L238.10,256.44L236.30,259.76Z" fill="url(#tgm)" stroke="#5a0f2a" stroke-width="0.35" stroke-linejoin="round"/>
<path d="M243.50,257.78L250.50,257.78L247.00,264.22Z" fill="url(#tgm)" stroke="#5a0f2a" stroke-width="0.5" stroke-linejoin="round"/>
<path d="M201.10,255.88L208.10,255.88L204.60,262.32Z" fill="url(#tgm)" stroke="#5a0f2a" stroke-width="0.5" stroke-linejoin="round"/>
<path d="M193.50,257.78L200.50,257.78L197.00,264.22Z" fill="url(#tgm)" stroke="#5a0f2a" stroke-width="0.5" stroke-linejoin="round"/>
<path d="M218.50,261.58L225.50,261.58L222.00,268.02Z" fill="url(#tgm)" stroke="#5a0f2a" stroke-width="0.5" stroke-linejoin="round"/>
<path d="M204.00,261.58L211.00,261.58L207.50,268.02Z" fill="url(#tgm)" stroke="#5a0f2a" stroke-width="0.5" stroke-linejoin="round"/>
<path d="M194.50,239.38L201.50,239.38L198.00,245.82Z" fill="url(#tgm)" stroke="#5a0f2a" stroke-width="0.5" stroke-linejoin="round"/>
<path d="M228.20,250.88L235.20,250.88L231.70,257.32Z" fill="url(#tgm)" stroke="#5a0f2a" stroke-width="0.5" stroke-linejoin="round"/>
<path d="M242.70,256.58L249.70,256.58L246.20,263.02Z" fill="url(#tgm)" stroke="#5a0f2a" stroke-width="0.5" stroke-linejoin="round"/>
<path d="M214.80,267.18L221.80,267.18L218.30,273.62Z" fill="url(#tgm)" stroke="#5a0f2a" stroke-width="0.5" stroke-linejoin="round"/>
<path d="M166.70,264.38L173.70,264.38L170.20,270.82Z" fill="url(#tgm)" stroke="#5a0f2a" stroke-width="0.5" stroke-linejoin="round"/>
<path d="M175.30,270.08L182.30,270.08L178.80,276.52Z" fill="url(#tgm)" stroke="#5a0f2a" stroke-width="0.5" stroke-linejoin="round"/>
<path d="M174.40,274.88L181.40,274.88L177.90,281.32Z" fill="url(#tgm)" stroke="#5a0f2a" stroke-width="0.5" stroke-linejoin="round"/>
<path d="M187.80,270.08L194.80,270.08L191.30,276.52Z" fill="url(#tgm)" stroke="#5a0f2a" stroke-width="0.5" stroke-linejoin="round"/>
<path d="M189.80,274.88L196.80,274.88L193.30,281.32Z" fill="url(#tgm)" stroke="#5a0f2a" stroke-width="0.5" stroke-linejoin="round"/>
<path d="M192.70,277.78L199.70,277.78L196.20,284.22Z" fill="url(#tgm)" stroke="#5a0f2a" stroke-width="0.5" stroke-linejoin="round"/>
<path d="M190.70,282.58L197.70,282.58L194.20,289.02Z" fill="url(#tgm)" stroke="#5a0f2a" stroke-width="0.5" stroke-linejoin="round"/>
<path d="M193.60,285.38L200.60,285.38L197.10,291.82Z" fill="url(#tgm)" stroke="#5a0f2a" stroke-width="0.5" stroke-linejoin="round"/>
<path d="M197.50,271.98L204.50,271.98L201.00,278.42Z" fill="url(#tgm)" stroke="#5a0f2a" stroke-width="0.5" stroke-linejoin="round"/>
<path d="M194.50,268.18L201.50,268.18L198.00,274.62Z" fill="url(#tgm)" stroke="#5a0f2a" stroke-width="0.5" stroke-linejoin="round"/>
<path d="M181.10,268.18L188.10,268.18L184.60,274.62Z" fill="url(#tgm)" stroke="#5a0f2a" stroke-width="0.5" stroke-linejoin="round"/>
<path d="M210.00,263.38L217.00,263.38L213.50,269.82Z" fill="url(#tgm)" stroke="#5a0f2a" stroke-width="0.5" stroke-linejoin="round"/>
<path d="M188.60,285.14L192.20,285.14L190.40,288.46Z" fill="url(#tgm)" stroke="#5a0f2a" stroke-width="0.35" stroke-linejoin="round"/>
<path d="M201.10,284.14L204.70,284.14L202.90,287.46Z" fill="url(#tgm)" stroke="#5a0f2a" stroke-width="0.35" stroke-linejoin="round"/>
<path d="M179.90,282.24L183.50,282.24L181.70,285.56Z" fill="url(#tgm)" stroke="#5a0f2a" stroke-width="0.35" stroke-linejoin="round"/>
<path d="M200.10,268.74L203.70,268.74L201.90,272.06Z" fill="url(#tgm)" stroke="#5a0f2a" stroke-width="0.35" stroke-linejoin="round"/>
<path d="M203.20,261.38L210.20,261.38L206.70,267.82Z" fill="url(#tgm)" stroke="#5a0f2a" stroke-width="0.5" stroke-linejoin="round"/>
<path d="M201.30,255.68L208.30,255.68L204.80,262.12Z" fill="url(#tgm)" stroke="#5a0f2a" stroke-width="0.5" stroke-linejoin="round"/>
<path d="M194.50,258.58L201.50,258.58L198.00,265.02Z" fill="url(#tgm)" stroke="#5a0f2a" stroke-width="0.5" stroke-linejoin="round"/>
<path d="M210.00,247.98L217.00,247.98L213.50,254.42Z" fill="url(#tgm)" stroke="#5a0f2a" stroke-width="0.5" stroke-linejoin="round"/>
<path d="M205.20,248.88L212.20,248.88L208.70,255.32Z" fill="url(#tgm)" stroke="#5a0f2a" stroke-width="0.5" stroke-linejoin="round"/>
<path d="M196.10,246.58L203.10,246.58L199.60,253.02Z" fill="url(#tgm)" stroke="#5a0f2a" stroke-width="0.5" stroke-linejoin="round"/>
<path d="M184.00,246.98L191.00,246.98L187.50,253.42Z" fill="url(#tgm)" stroke="#5a0f2a" stroke-width="0.5" stroke-linejoin="round"/>
<path d="M182.10,244.08L189.10,244.08L185.60,250.52Z" fill="url(#tgm)" stroke="#5a0f2a" stroke-width="0.5" stroke-linejoin="round"/>
<path d="M220.50,246.08L227.50,246.08L224.00,252.52Z" fill="url(#tgm)" stroke="#5a0f2a" stroke-width="0.5" stroke-linejoin="round"/>
<path d="M218.50,261.38L225.50,261.38L222.00,267.82Z" fill="url(#tgm)" stroke="#5a0f2a" stroke-width="0.5" stroke-linejoin="round"/>
<path d="M316.70,160.44L320.30,160.44L318.50,163.76Z" fill="url(#tgn)" stroke="#6a2434" stroke-width="0.35" stroke-linejoin="round"/>
<path d="M307.40,172.14L311.00,172.14L309.20,175.46Z" fill="url(#tgn)" stroke="#6a2434" stroke-width="0.35" stroke-linejoin="round"/>
<path d="M246,106 C238,90 220,82 190,81 C150,80 110,95 80,120 C62,136 53,148 53.5,158" fill="none" stroke="#80801a" stroke-width="1.3"/>
<path d="M50.2,159.6 L55.4,166 L56.4,158.6 Z" fill="#80801a" stroke="#80801a" stroke-width="0.8" stroke-linejoin="round"/>
<path d="M196,158 C186,180 155,199 100,207" fill="none" stroke="#1e22e6" stroke-width="1.35"/>
<path d="M101.9,204 L94.2,207 L101.3,210.2 Z" fill="#1e22e6" stroke="#1e22e6" stroke-width="0.4" stroke-linejoin="round"/>
<path d="M385.7,82.9 C374,94 362,106 349.6,117.5 C330,135 300,154 280.4,166.5 C266,176 257,192 249.8,206.8" fill="none" stroke="#e0701c" stroke-width="1.4"/>
<path d="M246.3,212.4 L247.1,205.3 L249.6,206.8 L252.2,208.3 Z" fill="#e0701c" stroke="#e0701c" stroke-width="0.5" stroke-linejoin="round"/>
<text x="78.7" y="88.5" font-family='"Liberation Sans", sans-serif' font-weight='bold' font-size="7.4" fill="#7d7d1c" stroke="#7d7d1c" stroke-width="0.2" textLength="20.8" lengthAdjust="spacingAndGlyphs">Pax5</text>
<text x="100.2" y="85.3" font-family='"Liberation Sans", sans-serif' font-weight='bold' font-size="5.2" fill="#7d7d1c" textLength="6" lengthAdjust="spacingAndGlyphs">+/-</text>
<text x="109.6" y="88.5" font-family='"Liberation Sans", sans-serif' font-weight='bold' font-size="7.4" fill="#7d7d1c" stroke="#7d7d1c" stroke-width="0.2" textLength="17.9" lengthAdjust="spacingAndGlyphs">in CF</text>
<text x="78.7" y="96.0" font-family='"Liberation Sans", sans-serif' font-weight='bold' font-size="7.4" fill="#7d7d1c" stroke="#7d7d1c" stroke-width="0.2" textLength="31.5" lengthAdjust="spacingAndGlyphs">post abx</text>
<text x="261" y="62.4" font-family='"Liberation Sans", sans-serif' font-weight='bold' font-size="7.4" fill="#e0701c" stroke="#e0701c" stroke-width="0.2" textLength="61.8" lengthAdjust="spacingAndGlyphs">Pax5+/- in SPF</text>
<text x="274.5" y="69.6" font-family='"Liberation Sans", sans-serif' font-weight='bold' font-size="7.4" fill="#e0701c" stroke="#e0701c" stroke-width="0.2" textLength="34.2" lengthAdjust="spacingAndGlyphs">post abx</text>
<text x="177.8" y="187.0" font-family='"Liberation Sans", sans-serif' font-weight='bold' font-size="7.3" fill="#1c1cee" stroke="#1c1cee" stroke-width="0.2" textLength="34.5" lengthAdjust="spacingAndGlyphs">WT in CF</text>
<text x="177.8" y="193.1" font-family='"Liberation Sans", sans-serif' font-weight='bold' font-size="7.3" fill="#1c1cee" stroke="#1c1cee" stroke-width="0.2" textLength="33.6" lengthAdjust="spacingAndGlyphs">post abx</text>
<text x="301" y="198.8" font-family='"Liberation Sans", sans-serif' font-weight='bold' font-size="7.4" fill="#3d8a20" stroke="#3d8a20" stroke-width="0.2" textLength="14.2" lengthAdjust="spacingAndGlyphs">abx</text>
<text x="231.7" y="285.8" font-family='"Liberation Sans", sans-serif' font-weight='bold' font-size="7.2" fill="#6cb2ee" stroke="#6cb2ee" stroke-width="0.15" textLength="29.8" lengthAdjust="spacingAndGlyphs">pre abx</text>
<rect x="0.7" y="0.6" width="518.6" height="704.6" fill="none" stroke="#000" stroke-width="1.3"/>
<text x="7.6" y="18.3" font-family='"Liberation Sans", sans-serif' font-weight="bold" font-size="12.6">A</text>
<text x="7.6" y="321.5" font-family='"Liberation Sans", sans-serif' font-weight="bold" font-size="12.6">B</text>
<text x="7.6" y="520.9" font-family='"Liberation Sans", sans-serif' font-weight="bold" font-size="12.6">C</text>
<text transform="translate(28.6,412.0) rotate(-90)" text-anchor="middle" font-family='"Liberation Sans", sans-serif' font-size="9.6" fill="#333" textLength="72" lengthAdjust="spacingAndGlyphs">Relative abundance</text>
<text x="50.6" y="472.1" text-anchor="end" font-family='"Liberation Sans", sans-serif' font-size="9.2" fill="#333" textLength="16.4" lengthAdjust="spacingAndGlyphs">0.00</text>
<text x="50.6" y="443.2" text-anchor="end" font-family='"Liberation Sans", sans-serif' font-size="9.2" fill="#333" textLength="16.4" lengthAdjust="spacingAndGlyphs">0.01</text>
<text x="50.6" y="414.4" text-anchor="end" font-family='"Liberation Sans", sans-serif' font-size="9.2" fill="#333" textLength="16.4" lengthAdjust="spacingAndGlyphs">0.02</text>
<text x="50.6" y="385.5" text-anchor="end" font-family='"Liberation Sans", sans-serif' font-size="9.2" fill="#333" textLength="16.4" lengthAdjust="spacingAndGlyphs">0.03</text>
<text x="50.6" y="356.7" text-anchor="end" font-family='"Liberation Sans", sans-serif' font-size="9.2" fill="#333" textLength="16.4" lengthAdjust="spacingAndGlyphs">0.04</text>
<text x="130" y="329.8" font-family='"Liberation Sans", sans-serif' font-size="10.6" fill="#222" textLength="121.4" lengthAdjust="spacingAndGlyphs">remained healthy (n=164)</text>
<line x1="54.60" y1="338.8" x2="54.60" y2="470.4" stroke="#8a8a8a" stroke-width="0.9"/>
<line x1="72.70" y1="338.8" x2="72.70" y2="470.4" stroke="#8a8a8a" stroke-width="0.9"/>
<line x1="90.80" y1="338.8" x2="90.80" y2="470.4" stroke="#8a8a8a" stroke-width="0.9"/>
<line x1="108.90" y1="338.8" x2="108.90" y2="470.4" stroke="#8a8a8a" stroke-width="0.9"/>
<line x1="127.00" y1="338.8" x2="127.00" y2="470.4" stroke="#8a8a8a" stroke-width="0.9"/>
<line x1="145.10" y1="338.8" x2="145.10" y2="470.4" stroke="#8a8a8a" stroke-width="0.9"/>
<line x1="163.20" y1="338.8" x2="163.20" y2="470.4" stroke="#8a8a8a" stroke-width="0.9"/>
<line x1="181.30" y1="338.8" x2="181.30" y2="470.4" stroke="#8a8a8a" stroke-width="0.9"/>
<line x1="199.40" y1="338.8" x2="199.40" y2="470.4" stroke="#8a8a8a" stroke-width="0.9"/>
<line x1="217.50" y1="338.8" x2="217.50" y2="470.4" stroke="#8a8a8a" stroke-width="0.9"/>
<line x1="235.60" y1="338.8" x2="235.60" y2="470.4" stroke="#8a8a8a" stroke-width="0.9"/>
<line x1="253.70" y1="338.8" x2="253.70" y2="470.4" stroke="#8a8a8a" stroke-width="0.9"/>
<line x1="271.80" y1="338.8" x2="271.80" y2="470.4" stroke="#8a8a8a" stroke-width="0.9"/>
<line x1="289.90" y1="338.8" x2="289.90" y2="470.4" stroke="#8a8a8a" stroke-width="0.9"/>
<line x1="308.00" y1="338.8" x2="308.00" y2="470.4" stroke="#8a8a8a" stroke-width="0.9"/>
<line x1="326.10" y1="338.8" x2="326.10" y2="470.4" stroke="#8a8a8a" stroke-width="0.9"/>
<rect x="54.60" y="463.80" width="18.10" height="6.60" fill="#b9e18c"/>
<rect x="54.60" y="457.70" width="18.10" height="6.10" fill="#59a037"/>
<rect x="54.60" y="457.20" width="18.10" height="0.50" fill="#e99a9c"/>
<rect x="54.60" y="450.80" width="18.10" height="6.40" fill="#cf2429"/>
<rect x="54.60" y="450.30" width="18.10" height="0.50" fill="#f2c077"/>
<rect x="54.60" y="450.00" width="18.10" height="0.30" fill="#ec8423"/>
<rect x="54.60" y="449.80" width="18.10" height="0.20" fill="#c2aed6"/>
<rect x="54.60" y="448.80" width="18.10" height="1.00" fill="#5b3a9a"/>
<rect x="54.60" y="448.60" width="18.10" height="0.20" fill="#fdf59d"/>
<rect x="54.60" y="447.80" width="18.10" height="0.80" fill="#9c5730"/>
<rect x="54.60" y="447.60" width="18.10" height="0.20" fill="#4f9b74"/>
<rect x="54.60" y="447.20" width="18.10" height="0.40" fill="#c7610f"/>
<rect x="54.60" y="447.20" width="18.10" height="23.20" fill="none" stroke="#3a3a3a" stroke-width="0.7"/>
<line x1="63.65" y1="471.4" x2="63.65" y2="474.0" stroke="#222" stroke-width="0.8"/>
<text x="63.65" y="485.1" text-anchor="middle" font-family='"Liberation Sans", sans-serif' font-size="9.4" fill="#2a2a2a" stroke="#2a2a2a" stroke-width="0.15">0</text>
<text x="63.65" y="497.5" text-anchor="middle" font-family='"Liberation Sans", sans-serif' font-size="9.4" fill="#2a2a2a" stroke="#2a2a2a" stroke-width="0.15">23</text>
<rect x="72.70" y="460.30" width="18.10" height="10.10" fill="#4473b6"/>
<rect x="72.70" y="455.00" width="18.10" height="5.30" fill="#b9e18c"/>
<rect x="72.70" y="449.20" width="18.10" height="5.80" fill="#59a037"/>
<rect x="72.70" y="448.20" width="18.10" height="1.00" fill="#e99a9c"/>
<rect x="72.70" y="441.50" width="18.10" height="6.70" fill="#cf2429"/>
<rect x="72.70" y="440.80" width="18.10" height="0.70" fill="#f2c077"/>
<rect x="72.70" y="440.50" width="18.10" height="0.30" fill="#ec8423"/>
<rect x="72.70" y="440.40" width="18.10" height="0.10" fill="#c2aed6"/>
<rect x="72.70" y="440.30" width="18.10" height="0.10" fill="#5b3a9a"/>
<rect x="72.70" y="440.20" width="18.10" height="0.10" fill="#fdf59d"/>
<rect x="72.70" y="439.80" width="18.10" height="0.40" fill="#9c5730"/>
<rect x="72.70" y="439.70" width="18.10" height="0.10" fill="#4f9b74"/>
<rect x="72.70" y="439.20" width="18.10" height="0.50" fill="#c7610f"/>
<rect x="72.70" y="439.20" width="18.10" height="31.20" fill="none" stroke="#3a3a3a" stroke-width="0.7"/>
<line x1="81.75" y1="471.4" x2="81.75" y2="474.0" stroke="#222" stroke-width="0.8"/>
<text x="81.75" y="485.1" text-anchor="middle" font-family='"Liberation Sans", sans-serif' font-size="9.4" fill="#2a2a2a" stroke="#2a2a2a" stroke-width="0.15">15</text>
<text x="81.75" y="497.5" text-anchor="middle" font-family='"Liberation Sans", sans-serif' font-size="9.4" fill="#2a2a2a" stroke="#2a2a2a" stroke-width="0.15">22</text>
<rect x="90.80" y="450.80" width="18.10" height="19.60" fill="#4473b6"/>
<rect x="90.80" y="445.40" width="18.10" height="5.40" fill="#b9e18c"/>
<rect x="90.80" y="441.80" width="18.10" height="3.60" fill="#59a037"/>
<rect x="90.80" y="441.20" width="18.10" height="0.60" fill="#e99a9c"/>
<rect x="90.80" y="436.20" width="18.10" height="5.00" fill="#cf2429"/>
<rect x="90.80" y="434.90" width="18.10" height="1.30" fill="#f2c077"/>
<rect x="90.80" y="434.70" width="18.10" height="0.20" fill="#ec8423"/>
<rect x="90.80" y="434.50" width="18.10" height="0.20" fill="#c2aed6"/>
<rect x="90.80" y="433.10" width="18.10" height="1.40" fill="#5b3a9a"/>
<rect x="90.80" y="432.80" width="18.10" height="0.30" fill="#fdf59d"/>
<rect x="90.80" y="431.50" width="18.10" height="1.30" fill="#9c5730"/>
<rect x="90.80" y="430.50" width="18.10" height="1.00" fill="#4f9b74"/>
<rect x="90.80" y="430.00" width="18.10" height="0.50" fill="#c7610f"/>
<rect x="90.80" y="430.00" width="18.10" height="40.40" fill="none" stroke="#3a3a3a" stroke-width="0.7"/>
<line x1="99.85" y1="471.4" x2="99.85" y2="474.0" stroke="#222" stroke-width="0.8"/>
<text x="99.85" y="485.1" text-anchor="middle" font-family='"Liberation Sans", sans-serif' font-size="9.4" fill="#2a2a2a" stroke="#2a2a2a" stroke-width="0.15">25</text>
<text x="99.85" y="497.5" text-anchor="middle" font-family='"Liberation Sans", sans-serif' font-size="9.4" fill="#2a2a2a" stroke="#2a2a2a" stroke-width="0.15">22</text>
<rect x="108.90" y="466.20" width="18.10" height="4.20" fill="#59a037"/>
<rect x="108.90" y="457.00" width="18.10" height="9.20" fill="#e99a9c"/>
<rect x="108.90" y="455.00" width="18.10" height="2.00" fill="#cf2429"/>
<rect x="108.90" y="453.50" width="18.10" height="1.50" fill="#f2c077"/>
<rect x="108.90" y="453.20" width="18.10" height="0.30" fill="#ec8423"/>
<rect x="108.90" y="453.00" width="18.10" height="0.20" fill="#c2aed6"/>
<rect x="108.90" y="452.80" width="18.10" height="0.20" fill="#5b3a9a"/>
<rect x="108.90" y="452.60" width="18.10" height="0.20" fill="#fdf59d"/>
<rect x="108.90" y="451.50" width="18.10" height="1.10" fill="#9c5730"/>
<rect x="108.90" y="451.30" width="18.10" height="0.20" fill="#4f9b74"/>
<rect x="108.90" y="451.00" width="18.10" height="0.30" fill="#c7610f"/>
<rect x="108.90" y="451.00" width="18.10" height="19.40" fill="none" stroke="#3a3a3a" stroke-width="0.7"/>
<line x1="117.95" y1="471.4" x2="117.95" y2="474.0" stroke="#222" stroke-width="0.8"/>
<text x="117.95" y="485.1" text-anchor="middle" font-family='"Liberation Sans", sans-serif' font-size="9.4" fill="#2a2a2a" stroke="#2a2a2a" stroke-width="0.15">30</text>
<text x="117.95" y="497.5" text-anchor="middle" font-family='"Liberation Sans", sans-serif' font-size="9.4" fill="#2a2a2a" stroke="#2a2a2a" stroke-width="0.15">5</text>
<rect x="127.00" y="451.80" width="18.10" height="18.60" fill="#4473b6"/>
<rect x="127.00" y="446.90" width="18.10" height="4.90" fill="#b9e18c"/>
<rect x="127.00" y="444.20" width="18.10" height="2.70" fill="#59a037"/>
<rect x="127.00" y="440.80" width="18.10" height="3.40" fill="#e99a9c"/>
<rect x="127.00" y="439.20" width="18.10" height="1.60" fill="#cf2429"/>
<rect x="127.00" y="437.70" width="18.10" height="1.50" fill="#f2c077"/>
<rect x="127.00" y="433.40" width="18.10" height="4.30" fill="#ec8423"/>
<rect x="127.00" y="433.00" width="18.10" height="0.40" fill="#c2aed6"/>
<rect x="127.00" y="431.50" width="18.10" height="1.50" fill="#5b3a9a"/>
<rect x="127.00" y="431.20" width="18.10" height="0.30" fill="#fdf59d"/>
<rect x="127.00" y="430.20" width="18.10" height="1.00" fill="#9c5730"/>
<rect x="127.00" y="430.00" width="18.10" height="0.20" fill="#4f9b74"/>
<rect x="127.00" y="429.70" width="18.10" height="0.30" fill="#c7610f"/>
<rect x="127.00" y="429.70" width="18.10" height="40.70" fill="none" stroke="#3a3a3a" stroke-width="0.7"/>
<line x1="136.05" y1="471.4" x2="136.05" y2="474.0" stroke="#222" stroke-width="0.8"/>
<text x="136.05" y="485.1" text-anchor="middle" font-family='"Liberation Sans", sans-serif' font-size="9.4" fill="#2a2a2a" stroke="#2a2a2a" stroke-width="0.15">35</text>
<text x="136.05" y="497.5" text-anchor="middle" font-family='"Liberation Sans", sans-serif' font-size="9.4" fill="#2a2a2a" stroke="#2a2a2a" stroke-width="0.15">19</text>
<rect x="145.10" y="455.80" width="18.10" height="14.60" fill="#4473b6"/>
<rect x="145.10" y="451.50" width="18.10" height="4.30" fill="#b9e18c"/>
<rect x="145.10" y="449.20" width="18.10" height="2.30" fill="#59a037"/>
<rect x="145.10" y="443.10" width="18.10" height="6.10" fill="#e99a9c"/>
<rect x="145.10" y="440.00" width="18.10" height="3.10" fill="#cf2429"/>
<rect x="145.10" y="438.00" width="18.10" height="2.00" fill="#f2c077"/>
<rect x="145.10" y="437.00" width="18.10" height="1.00" fill="#ec8423"/>
<rect x="145.10" y="436.80" width="18.10" height="0.20" fill="#c2aed6"/>
<rect x="145.10" y="436.40" width="18.10" height="0.40" fill="#5b3a9a"/>
<rect x="145.10" y="436.00" width="18.10" height="0.40" fill="#fdf59d"/>
<rect x="145.10" y="435.30" width="18.10" height="0.70" fill="#9c5730"/>
<rect x="145.10" y="435.10" width="18.10" height="0.20" fill="#4f9b74"/>
<rect x="145.10" y="434.90" width="18.10" height="0.20" fill="#c7610f"/>
<rect x="145.10" y="434.90" width="18.10" height="35.50" fill="none" stroke="#3a3a3a" stroke-width="0.7"/>
<line x1="154.15" y1="471.4" x2="154.15" y2="474.0" stroke="#222" stroke-width="0.8"/>
<text x="154.15" y="485.1" text-anchor="middle" font-family='"Liberation Sans", sans-serif' font-size="9.4" fill="#2a2a2a" stroke="#2a2a2a" stroke-width="0.15">40</text>
<text x="154.15" y="497.5" text-anchor="middle" font-family='"Liberation Sans", sans-serif' font-size="9.4" fill="#2a2a2a" stroke="#2a2a2a" stroke-width="0.15">14</text>
<rect x="163.20" y="419.80" width="18.10" height="50.60" fill="#4473b6"/>
<rect x="163.20" y="410.20" width="18.10" height="9.60" fill="#b9e18c"/>
<rect x="163.20" y="407.70" width="18.10" height="2.50" fill="#59a037"/>
<rect x="163.20" y="399.40" width="18.10" height="8.30" fill="#e99a9c"/>
<rect x="163.20" y="396.20" width="18.10" height="3.20" fill="#cf2429"/>
<rect x="163.20" y="393.80" width="18.10" height="2.40" fill="#f2c077"/>
<rect x="163.20" y="391.80" width="18.10" height="2.00" fill="#5b3a9a"/>
<rect x="163.20" y="389.80" width="18.10" height="2.00" fill="#fdf59d"/>
<rect x="163.20" y="388.70" width="18.10" height="1.10" fill="#9c5730"/>
<rect x="163.20" y="385.50" width="18.10" height="3.20" fill="#4f9b74"/>
<rect x="163.20" y="385.20" width="18.10" height="0.30" fill="#c7610f"/>
<rect x="163.20" y="385.20" width="18.10" height="85.20" fill="none" stroke="#3a3a3a" stroke-width="0.7"/>
<line x1="172.25" y1="471.4" x2="172.25" y2="474.0" stroke="#222" stroke-width="0.8"/>
<text x="172.25" y="485.1" text-anchor="middle" font-family='"Liberation Sans", sans-serif' font-size="9.4" fill="#2a2a2a" stroke="#2a2a2a" stroke-width="0.15">45</text>
<text x="172.25" y="497.5" text-anchor="middle" font-family='"Liberation Sans", sans-serif' font-size="9.4" fill="#2a2a2a" stroke="#2a2a2a" stroke-width="0.15">8</text>
<rect x="181.30" y="439.50" width="18.10" height="30.90" fill="#4473b6"/>
<rect x="181.30" y="433.80" width="18.10" height="5.70" fill="#b9e18c"/>
<rect x="181.30" y="429.20" width="18.10" height="4.60" fill="#59a037"/>
<rect x="181.30" y="418.50" width="18.10" height="10.70" fill="#e99a9c"/>
<rect x="181.30" y="416.20" width="18.10" height="2.30" fill="#cf2429"/>
<rect x="181.30" y="413.80" width="18.10" height="2.40" fill="#f2c077"/>
<rect x="181.30" y="406.00" width="18.10" height="7.80" fill="#ec8423"/>
<rect x="181.30" y="405.50" width="18.10" height="0.50" fill="#c2aed6"/>
<rect x="181.30" y="404.60" width="18.10" height="0.90" fill="#5b3a9a"/>
<rect x="181.30" y="403.50" width="18.10" height="1.10" fill="#fdf59d"/>
<rect x="181.30" y="402.60" width="18.10" height="0.90" fill="#9c5730"/>
<rect x="181.30" y="400.60" width="18.10" height="2.00" fill="#4f9b74"/>
<rect x="181.30" y="400.30" width="18.10" height="0.30" fill="#c7610f"/>
<rect x="181.30" y="400.30" width="18.10" height="70.10" fill="none" stroke="#3a3a3a" stroke-width="0.7"/>
<line x1="190.35" y1="471.4" x2="190.35" y2="474.0" stroke="#222" stroke-width="0.8"/>
<text x="190.35" y="485.1" text-anchor="middle" font-family='"Liberation Sans", sans-serif' font-size="9.4" fill="#2a2a2a" stroke="#2a2a2a" stroke-width="0.15">50</text>
<text x="190.35" y="497.5" text-anchor="middle" font-family='"Liberation Sans", sans-serif' font-size="9.4" fill="#2a2a2a" stroke="#2a2a2a" stroke-width="0.15">16</text>
<rect x="199.40" y="465.80" width="18.10" height="4.60" fill="#b9e18c"/>
<rect x="199.40" y="464.30" width="18.10" height="1.50" fill="#c2aed6"/>
<rect x="199.40" y="463.00" width="18.10" height="1.30" fill="#fdf59d"/>
<rect x="199.40" y="461.60" width="18.10" height="1.40" fill="#9c5730"/>
<rect x="199.40" y="461.40" width="18.10" height="0.20" fill="#4f9b74"/>
<rect x="199.40" y="461.20" width="18.10" height="0.20" fill="#c7610f"/>
<rect x="199.40" y="461.20" width="18.10" height="9.20" fill="none" stroke="#3a3a3a" stroke-width="0.7"/>
<line x1="208.45" y1="471.4" x2="208.45" y2="474.0" stroke="#222" stroke-width="0.8"/>
<text x="208.45" y="485.1" text-anchor="middle" font-family='"Liberation Sans", sans-serif' font-size="9.4" fill="#2a2a2a" stroke="#2a2a2a" stroke-width="0.15">55</text>
<text x="208.45" y="497.5" text-anchor="middle" font-family='"Liberation Sans", sans-serif' font-size="9.4" fill="#2a2a2a" stroke="#2a2a2a" stroke-width="0.15">1</text>
<rect x="217.50" y="469.00" width="18.10" height="1.40" fill="#4473b6"/>
<rect x="217.50" y="466.50" width="18.10" height="2.50" fill="#b9e18c"/>
<rect x="217.50" y="464.60" width="18.10" height="1.90" fill="#59a037"/>
<rect x="217.50" y="457.20" width="18.10" height="7.40" fill="#e99a9c"/>
<rect x="217.50" y="453.50" width="18.10" height="3.70" fill="#cf2429"/>
<rect x="217.50" y="450.80" width="18.10" height="2.70" fill="#f2c077"/>
<rect x="217.50" y="438.20" width="18.10" height="12.60" fill="#ec8423"/>
<rect x="217.50" y="438.00" width="18.10" height="0.20" fill="#c2aed6"/>
<rect x="217.50" y="436.20" width="18.10" height="1.80" fill="#5b3a9a"/>
<rect x="217.50" y="432.00" width="18.10" height="4.20" fill="#fdf59d"/>
<rect x="217.50" y="431.00" width="18.10" height="1.00" fill="#9c5730"/>
<rect x="217.50" y="429.00" width="18.10" height="2.00" fill="#4f9b74"/>
<rect x="217.50" y="428.60" width="18.10" height="0.40" fill="#c7610f"/>
<rect x="217.50" y="428.60" width="18.10" height="41.80" fill="none" stroke="#3a3a3a" stroke-width="0.7"/>
<line x1="226.55" y1="471.4" x2="226.55" y2="474.0" stroke="#222" stroke-width="0.8"/>
<text x="226.55" y="485.1" text-anchor="middle" font-family='"Liberation Sans", sans-serif' font-size="9.4" fill="#2a2a2a" stroke="#2a2a2a" stroke-width="0.15">60</text>
<text x="226.55" y="497.5" text-anchor="middle" font-family='"Liberation Sans", sans-serif' font-size="9.4" fill="#2a2a2a" stroke="#2a2a2a" stroke-width="0.15">12</text>
<rect x="235.60" y="467.20" width="18.10" height="3.20" fill="#4473b6"/>
<rect x="235.60" y="461.50" width="18.10" height="5.70" fill="#b9e18c"/>
<rect x="235.60" y="461.30" width="18.10" height="0.20" fill="#59a037"/>
<rect x="235.60" y="428.90" width="18.10" height="32.40" fill="#e99a9c"/>
<rect x="235.60" y="427.40" width="18.10" height="1.50" fill="#cf2429"/>
<rect x="235.60" y="425.40" width="18.10" height="2.00" fill="#f2c077"/>
<rect x="235.60" y="425.20" width="18.10" height="0.20" fill="#ec8423"/>
<rect x="235.60" y="422.80" width="18.10" height="2.40" fill="#c2aed6"/>
<rect x="235.60" y="421.20" width="18.10" height="1.60" fill="#5b3a9a"/>
<rect x="235.60" y="412.00" width="18.10" height="9.20" fill="#fdf59d"/>
<rect x="235.60" y="410.60" width="18.10" height="1.40" fill="#9c5730"/>
<rect x="235.60" y="410.40" width="18.10" height="0.20" fill="#4f9b74"/>
<rect x="235.60" y="410.20" width="18.10" height="0.20" fill="#c7610f"/>
<rect x="235.60" y="410.20" width="18.10" height="60.20" fill="none" stroke="#3a3a3a" stroke-width="0.7"/>
<line x1="244.65" y1="471.4" x2="244.65" y2="474.0" stroke="#222" stroke-width="0.8"/>
<text x="244.65" y="485.1" text-anchor="middle" font-family='"Liberation Sans", sans-serif' font-size="9.4" fill="#2a2a2a" stroke="#2a2a2a" stroke-width="0.15">65</text>
<text x="244.65" y="497.5" text-anchor="middle" font-family='"Liberation Sans", sans-serif' font-size="9.4" fill="#2a2a2a" stroke="#2a2a2a" stroke-width="0.15">4</text>
<rect x="253.70" y="391.70" width="18.10" height="78.70" fill="#4473b6"/>
<rect x="253.70" y="388.30" width="18.10" height="3.40" fill="#b9e18c"/>
<rect x="253.70" y="388.20" width="18.10" height="0.10" fill="#59a037"/>
<rect x="253.70" y="374.10" width="18.10" height="14.10" fill="#e99a9c"/>
<rect x="253.70" y="372.90" width="18.10" height="1.20" fill="#cf2429"/>
<rect x="253.70" y="366.90" width="18.10" height="6.00" fill="#f2c077"/>
<rect x="253.70" y="366.80" width="18.10" height="0.10" fill="#ec8423"/>
<rect x="253.70" y="356.00" width="18.10" height="10.80" fill="#c2aed6"/>
<rect x="253.70" y="354.20" width="18.10" height="1.80" fill="#5b3a9a"/>
<rect x="253.70" y="344.80" width="18.10" height="9.40" fill="#fdf59d"/>
<rect x="253.70" y="343.60" width="18.10" height="1.20" fill="#9c5730"/>
<rect x="253.70" y="339.40" width="18.10" height="4.20" fill="#4f9b74"/>
<rect x="253.70" y="339.00" width="18.10" height="0.40" fill="#c7610f"/>
<rect x="253.70" y="339.00" width="18.10" height="131.40" fill="none" stroke="#3a3a3a" stroke-width="0.7"/>
<line x1="262.75" y1="471.4" x2="262.75" y2="474.0" stroke="#222" stroke-width="0.8"/>
<text x="262.75" y="485.1" text-anchor="middle" font-family='"Liberation Sans", sans-serif' font-size="9.4" fill="#2a2a2a" stroke="#2a2a2a" stroke-width="0.15">70</text>
<text x="262.75" y="497.5" text-anchor="middle" font-family='"Liberation Sans", sans-serif' font-size="9.4" fill="#2a2a2a" stroke="#2a2a2a" stroke-width="0.15">5</text>
<rect x="271.80" y="463.00" width="18.10" height="7.40" fill="#4473b6"/>
<rect x="271.80" y="461.00" width="18.10" height="2.00" fill="#b9e18c"/>
<rect x="271.80" y="460.80" width="18.10" height="0.20" fill="#59a037"/>
<rect x="271.80" y="442.80" width="18.10" height="18.00" fill="#e99a9c"/>
<rect x="271.80" y="438.70" width="18.10" height="4.10" fill="#cf2429"/>
<rect x="271.80" y="434.00" width="18.10" height="4.70" fill="#f2c077"/>
<rect x="271.80" y="433.90" width="18.10" height="0.10" fill="#ec8423"/>
<rect x="271.80" y="414.10" width="18.10" height="19.80" fill="#c2aed6"/>
<rect x="271.80" y="412.20" width="18.10" height="1.90" fill="#5b3a9a"/>
<rect x="271.80" y="397.40" width="18.10" height="14.80" fill="#fdf59d"/>
<rect x="271.80" y="396.00" width="18.10" height="1.40" fill="#9c5730"/>
<rect x="271.80" y="391.60" width="18.10" height="4.40" fill="#4f9b74"/>
<rect x="271.80" y="391.20" width="18.10" height="0.40" fill="#c7610f"/>
<rect x="271.80" y="391.20" width="18.10" height="79.20" fill="none" stroke="#3a3a3a" stroke-width="0.7"/>
<line x1="280.85" y1="471.4" x2="280.85" y2="474.0" stroke="#222" stroke-width="0.8"/>
<text x="280.85" y="485.1" text-anchor="middle" font-family='"Liberation Sans", sans-serif' font-size="9.4" fill="#2a2a2a" stroke="#2a2a2a" stroke-width="0.15">75</text>
<text x="280.85" y="497.5" text-anchor="middle" font-family='"Liberation Sans", sans-serif' font-size="9.4" fill="#2a2a2a" stroke="#2a2a2a" stroke-width="0.15">5</text>
<rect x="289.90" y="467.70" width="18.10" height="2.70" fill="#b9e18c"/>
<rect x="289.90" y="459.60" width="18.10" height="8.10" fill="#59a037"/>
<rect x="289.90" y="452.60" width="18.10" height="7.00" fill="#e99a9c"/>
<rect x="289.90" y="449.50" width="18.10" height="3.10" fill="#cf2429"/>
<rect x="289.90" y="449.30" width="18.10" height="0.20" fill="#f2c077"/>
<rect x="289.90" y="449.10" width="18.10" height="0.20" fill="#ec8423"/>
<rect x="289.90" y="447.80" width="18.10" height="1.30" fill="#c2aed6"/>
<rect x="289.90" y="445.90" width="18.10" height="1.90" fill="#5b3a9a"/>
<rect x="289.90" y="440.10" width="18.10" height="5.80" fill="#fdf59d"/>
<rect x="289.90" y="438.60" width="18.10" height="1.50" fill="#9c5730"/>
<rect x="289.90" y="438.50" width="18.10" height="0.10" fill="#4f9b74"/>
<rect x="289.90" y="438.30" width="18.10" height="0.20" fill="#c7610f"/>
<rect x="289.90" y="438.30" width="18.10" height="32.10" fill="none" stroke="#3a3a3a" stroke-width="0.7"/>
<line x1="298.95" y1="471.4" x2="298.95" y2="474.0" stroke="#222" stroke-width="0.8"/>
<text x="298.95" y="485.1" text-anchor="middle" font-family='"Liberation Sans", sans-serif' font-size="9.4" fill="#2a2a2a" stroke="#2a2a2a" stroke-width="0.15">80</text>
<text x="298.95" y="497.5" text-anchor="middle" font-family='"Liberation Sans", sans-serif' font-size="9.4" fill="#2a2a2a" stroke="#2a2a2a" stroke-width="0.15">1</text>
<rect x="308.00" y="443.50" width="18.10" height="26.90" fill="#4473b6"/>
<rect x="308.00" y="441.80" width="18.10" height="1.70" fill="#b9e18c"/>
<rect x="308.00" y="438.70" width="18.10" height="3.10" fill="#59a037"/>
<rect x="308.00" y="427.00" width="18.10" height="11.70" fill="#e99a9c"/>
<rect x="308.00" y="423.00" width="18.10" height="4.00" fill="#cf2429"/>
<rect x="308.00" y="417.50" width="18.10" height="5.50" fill="#f2c077"/>
<rect x="308.00" y="417.30" width="18.10" height="0.20" fill="#ec8423"/>
<rect x="308.00" y="402.30" width="18.10" height="15.00" fill="#c2aed6"/>
<rect x="308.00" y="400.70" width="18.10" height="1.60" fill="#5b3a9a"/>
<rect x="308.00" y="391.50" width="18.10" height="9.20" fill="#fdf59d"/>
<rect x="308.00" y="390.10" width="18.10" height="1.40" fill="#9c5730"/>
<rect x="308.00" y="387.30" width="18.10" height="2.80" fill="#4f9b74"/>
<rect x="308.00" y="386.90" width="18.10" height="0.40" fill="#c7610f"/>
<rect x="308.00" y="386.90" width="18.10" height="83.50" fill="none" stroke="#3a3a3a" stroke-width="0.7"/>
<line x1="317.05" y1="471.4" x2="317.05" y2="474.0" stroke="#222" stroke-width="0.8"/>
<text x="317.05" y="485.1" text-anchor="middle" font-family='"Liberation Sans", sans-serif' font-size="9.4" fill="#2a2a2a" stroke="#2a2a2a" stroke-width="0.15">85</text>
<text x="317.05" y="497.5" text-anchor="middle" font-family='"Liberation Sans", sans-serif' font-size="9.4" fill="#2a2a2a" stroke="#2a2a2a" stroke-width="0.15">7</text>
<line x1="54.6" y1="471.2" x2="329.30" y2="471.2" stroke="#222" stroke-width="1.3"/>
<line x1="54.6" y1="336.3" x2="54.6" y2="471.79999999999995" stroke="#222" stroke-width="1.3"/>
<text x="329.7" y="484.9" font-family='"Liberation Sans", sans-serif' font-size="9.4" fill="#2a2a2a" stroke="#2a2a2a" stroke-width="0.15" textLength="24" lengthAdjust="spacingAndGlyphs">weeks</text>
<text x="339.6" y="497.4" font-family='"Liberation Sans", sans-serif' font-size="9.4" fill="#2a2a2a" stroke="#2a2a2a" stroke-width="0.15">n</text>
<text transform="translate(28.6,610.3) rotate(-90)" text-anchor="middle" font-family='"Liberation Sans", sans-serif' font-size="9.6" fill="#333" textLength="72" lengthAdjust="spacingAndGlyphs">Relative abundance</text>
<text x="50.6" y="670.4" text-anchor="end" font-family='"Liberation Sans", sans-serif' font-size="9.2" fill="#333" textLength="16.4" lengthAdjust="spacingAndGlyphs">0.00</text>
<text x="50.6" y="641.6" text-anchor="end" font-family='"Liberation Sans", sans-serif' font-size="9.2" fill="#333" textLength="16.4" lengthAdjust="spacingAndGlyphs">0.01</text>
<text x="50.6" y="612.7" text-anchor="end" font-family='"Liberation Sans", sans-serif' font-size="9.2" fill="#333" textLength="16.4" lengthAdjust="spacingAndGlyphs">0.02</text>
<text x="50.6" y="583.9" text-anchor="end" font-family='"Liberation Sans", sans-serif' font-size="9.2" fill="#333" textLength="16.4" lengthAdjust="spacingAndGlyphs">0.03</text>
<text x="50.6" y="555.0" text-anchor="end" font-family='"Liberation Sans", sans-serif' font-size="9.2" fill="#333" textLength="16.4" lengthAdjust="spacingAndGlyphs">0.04</text>
<text x="116.5" y="529.1" font-family='"Liberation Sans", sans-serif' font-size="10.6" fill="#222" textLength="128" lengthAdjust="spacingAndGlyphs">developed pB-ALL (n=144)</text>
<line x1="54.60" y1="537.2" x2="54.60" y2="668.7" stroke="#8a8a8a" stroke-width="0.9"/>
<line x1="72.70" y1="537.2" x2="72.70" y2="668.7" stroke="#8a8a8a" stroke-width="0.9"/>
<line x1="90.80" y1="537.2" x2="90.80" y2="668.7" stroke="#8a8a8a" stroke-width="0.9"/>
<line x1="108.90" y1="537.2" x2="108.90" y2="668.7" stroke="#8a8a8a" stroke-width="0.9"/>
<line x1="127.00" y1="537.2" x2="127.00" y2="668.7" stroke="#8a8a8a" stroke-width="0.9"/>
<line x1="145.10" y1="537.2" x2="145.10" y2="668.7" stroke="#8a8a8a" stroke-width="0.9"/>
<line x1="163.20" y1="537.2" x2="163.20" y2="668.7" stroke="#8a8a8a" stroke-width="0.9"/>
<line x1="181.30" y1="537.2" x2="181.30" y2="668.7" stroke="#8a8a8a" stroke-width="0.9"/>
<line x1="199.40" y1="537.2" x2="199.40" y2="668.7" stroke="#8a8a8a" stroke-width="0.9"/>
<line x1="217.50" y1="537.2" x2="217.50" y2="668.7" stroke="#8a8a8a" stroke-width="0.9"/>
<line x1="235.60" y1="537.2" x2="235.60" y2="668.7" stroke="#8a8a8a" stroke-width="0.9"/>
<line x1="253.70" y1="537.2" x2="253.70" y2="668.7" stroke="#8a8a8a" stroke-width="0.9"/>
<line x1="271.80" y1="537.2" x2="271.80" y2="668.7" stroke="#8a8a8a" stroke-width="0.9"/>
<line x1="289.90" y1="537.2" x2="289.90" y2="668.7" stroke="#8a8a8a" stroke-width="0.9"/>
<rect x="54.60" y="658.80" width="18.10" height="9.90" fill="#b9e18c"/>
<rect x="54.60" y="647.40" width="18.10" height="11.40" fill="#59a037"/>
<rect x="54.60" y="647.20" width="18.10" height="0.20" fill="#e99a9c"/>
<rect x="54.60" y="644.90" width="18.10" height="2.30" fill="#cf2429"/>
<rect x="54.60" y="644.70" width="18.10" height="0.20" fill="#f2c077"/>
<rect x="54.60" y="644.50" width="18.10" height="0.20" fill="#ec8423"/>
<rect x="54.60" y="644.30" width="18.10" height="0.20" fill="#c2aed6"/>
<rect x="54.60" y="643.10" width="18.10" height="1.20" fill="#5b3a9a"/>
<rect x="54.60" y="643.00" width="18.10" height="0.10" fill="#fdf59d"/>
<rect x="54.60" y="642.00" width="18.10" height="1.00" fill="#9c5730"/>
<rect x="54.60" y="641.80" width="18.10" height="0.20" fill="#4f9b74"/>
<rect x="54.60" y="641.50" width="18.10" height="0.30" fill="#c7610f"/>
<rect x="54.60" y="641.50" width="18.10" height="27.20" fill="none" stroke="#3a3a3a" stroke-width="0.7"/>
<line x1="63.65" y1="669.7" x2="63.65" y2="672.3000000000001" stroke="#222" stroke-width="0.8"/>
<text x="63.65" y="683.4" text-anchor="middle" font-family='"Liberation Sans", sans-serif' font-size="9.4" fill="#2a2a2a" stroke="#2a2a2a" stroke-width="0.15">0</text>
<text x="63.65" y="695.8" text-anchor="middle" font-family='"Liberation Sans", sans-serif' font-size="9.4" fill="#2a2a2a" stroke="#2a2a2a" stroke-width="0.15">27</text>
<rect x="72.70" y="657.70" width="18.10" height="11.00" fill="#4473b6"/>
<rect x="72.70" y="652.00" width="18.10" height="5.70" fill="#b9e18c"/>
<rect x="72.70" y="640.80" width="18.10" height="11.20" fill="#59a037"/>
<rect x="72.70" y="640.60" width="18.10" height="0.20" fill="#e99a9c"/>
<rect x="72.70" y="638.50" width="18.10" height="2.10" fill="#cf2429"/>
<rect x="72.70" y="637.50" width="18.10" height="1.00" fill="#f2c077"/>
<rect x="72.70" y="637.30" width="18.10" height="0.20" fill="#ec8423"/>
<rect x="72.70" y="637.20" width="18.10" height="0.10" fill="#c2aed6"/>
<rect x="72.70" y="637.10" width="18.10" height="0.10" fill="#5b3a9a"/>
<rect x="72.70" y="637.00" width="18.10" height="0.10" fill="#fdf59d"/>
<rect x="72.70" y="636.00" width="18.10" height="1.00" fill="#9c5730"/>
<rect x="72.70" y="635.80" width="18.10" height="0.20" fill="#4f9b74"/>
<rect x="72.70" y="634.60" width="18.10" height="1.20" fill="#c7610f"/>
<rect x="72.70" y="634.60" width="18.10" height="34.10" fill="none" stroke="#3a3a3a" stroke-width="0.7"/>
<line x1="81.75" y1="669.7" x2="81.75" y2="672.3000000000001" stroke="#222" stroke-width="0.8"/>
<text x="81.75" y="683.4" text-anchor="middle" font-family='"Liberation Sans", sans-serif' font-size="9.4" fill="#2a2a2a" stroke="#2a2a2a" stroke-width="0.15">15</text>
<text x="81.75" y="695.8" text-anchor="middle" font-family='"Liberation Sans", sans-serif' font-size="9.4" fill="#2a2a2a" stroke="#2a2a2a" stroke-width="0.15">26</text>
<rect x="90.80" y="628.90" width="18.10" height="39.80" fill="#4473b6"/>
<rect x="90.80" y="618.50" width="18.10" height="10.40" fill="#b9e18c"/>
<rect x="90.80" y="613.10" width="18.10" height="5.40" fill="#59a037"/>
<rect x="90.80" y="611.50" width="18.10" height="1.60" fill="#e99a9c"/>
<rect x="90.80" y="606.90" width="18.10" height="4.60" fill="#cf2429"/>
<rect x="90.80" y="606.70" width="18.10" height="0.20" fill="#f2c077"/>
<rect x="90.80" y="606.50" width="18.10" height="0.20" fill="#ec8423"/>
<rect x="90.80" y="606.30" width="18.10" height="0.20" fill="#c2aed6"/>
<rect x="90.80" y="606.00" width="18.10" height="0.30" fill="#5b3a9a"/>
<rect x="90.80" y="605.80" width="18.10" height="0.20" fill="#fdf59d"/>
<rect x="90.80" y="605.20" width="18.10" height="0.60" fill="#9c5730"/>
<rect x="90.80" y="604.60" width="18.10" height="0.60" fill="#4f9b74"/>
<rect x="90.80" y="603.10" width="18.10" height="1.50" fill="#c7610f"/>
<rect x="90.80" y="603.10" width="18.10" height="65.60" fill="none" stroke="#3a3a3a" stroke-width="0.7"/>
<line x1="99.85" y1="669.7" x2="99.85" y2="672.3000000000001" stroke="#222" stroke-width="0.8"/>
<text x="99.85" y="683.4" text-anchor="middle" font-family='"Liberation Sans", sans-serif' font-size="9.4" fill="#2a2a2a" stroke="#2a2a2a" stroke-width="0.15">25</text>
<text x="99.85" y="695.8" text-anchor="middle" font-family='"Liberation Sans", sans-serif' font-size="9.4" fill="#2a2a2a" stroke="#2a2a2a" stroke-width="0.15">23</text>
<rect x="108.90" y="652.00" width="18.10" height="16.70" fill="#b9e18c"/>
<rect x="108.90" y="648.00" width="18.10" height="4.00" fill="#59a037"/>
<rect x="108.90" y="641.20" width="18.10" height="6.80" fill="#e99a9c"/>
<rect x="108.90" y="637.20" width="18.10" height="4.00" fill="#cf2429"/>
<rect x="108.90" y="634.60" width="18.10" height="2.60" fill="#f2c077"/>
<rect x="108.90" y="634.40" width="18.10" height="0.20" fill="#ec8423"/>
<rect x="108.90" y="634.20" width="18.10" height="0.20" fill="#c2aed6"/>
<rect x="108.90" y="633.20" width="18.10" height="1.00" fill="#5b3a9a"/>
<rect x="108.90" y="633.00" width="18.10" height="0.20" fill="#fdf59d"/>
<rect x="108.90" y="632.50" width="18.10" height="0.50" fill="#9c5730"/>
<rect x="108.90" y="632.30" width="18.10" height="0.20" fill="#4f9b74"/>
<rect x="108.90" y="632.00" width="18.10" height="0.30" fill="#c7610f"/>
<rect x="108.90" y="632.00" width="18.10" height="36.70" fill="none" stroke="#3a3a3a" stroke-width="0.7"/>
<line x1="117.95" y1="669.7" x2="117.95" y2="672.3000000000001" stroke="#222" stroke-width="0.8"/>
<text x="117.95" y="683.4" text-anchor="middle" font-family='"Liberation Sans", sans-serif' font-size="9.4" fill="#2a2a2a" stroke="#2a2a2a" stroke-width="0.15">30</text>
<text x="117.95" y="695.8" text-anchor="middle" font-family='"Liberation Sans", sans-serif' font-size="9.4" fill="#2a2a2a" stroke="#2a2a2a" stroke-width="0.15">6</text>
<rect x="127.00" y="651.50" width="18.10" height="17.20" fill="#b9e18c"/>
<rect x="127.00" y="646.50" width="18.10" height="5.00" fill="#59a037"/>
<rect x="127.00" y="645.30" width="18.10" height="1.20" fill="#e99a9c"/>
<rect x="127.00" y="644.30" width="18.10" height="1.00" fill="#cf2429"/>
<rect x="127.00" y="643.80" width="18.10" height="0.50" fill="#f2c077"/>
<rect x="127.00" y="643.60" width="18.10" height="0.20" fill="#ec8423"/>
<rect x="127.00" y="643.40" width="18.10" height="0.20" fill="#c2aed6"/>
<rect x="127.00" y="642.50" width="18.10" height="0.90" fill="#5b3a9a"/>
<rect x="127.00" y="642.30" width="18.10" height="0.20" fill="#fdf59d"/>
<rect x="127.00" y="641.00" width="18.10" height="1.30" fill="#9c5730"/>
<rect x="127.00" y="640.80" width="18.10" height="0.20" fill="#4f9b74"/>
<rect x="127.00" y="639.70" width="18.10" height="1.10" fill="#c7610f"/>
<rect x="127.00" y="639.70" width="18.10" height="29.00" fill="none" stroke="#3a3a3a" stroke-width="0.7"/>
<line x1="136.05" y1="669.7" x2="136.05" y2="672.3000000000001" stroke="#222" stroke-width="0.8"/>
<text x="136.05" y="683.4" text-anchor="middle" font-family='"Liberation Sans", sans-serif' font-size="9.4" fill="#2a2a2a" stroke="#2a2a2a" stroke-width="0.15">35</text>
<text x="136.05" y="695.8" text-anchor="middle" font-family='"Liberation Sans", sans-serif' font-size="9.4" fill="#2a2a2a" stroke="#2a2a2a" stroke-width="0.15">16</text>
<rect x="145.10" y="663.00" width="18.10" height="5.70" fill="#b9e18c"/>
<rect x="145.10" y="658.50" width="18.10" height="4.50" fill="#59a037"/>
<rect x="145.10" y="653.50" width="18.10" height="5.00" fill="#e99a9c"/>
<rect x="145.10" y="652.00" width="18.10" height="1.50" fill="#cf2429"/>
<rect x="145.10" y="650.50" width="18.10" height="1.50" fill="#f2c077"/>
<rect x="145.10" y="650.30" width="18.10" height="0.20" fill="#ec8423"/>
<rect x="145.10" y="650.10" width="18.10" height="0.20" fill="#c2aed6"/>
<rect x="145.10" y="650.00" width="18.10" height="0.10" fill="#5b3a9a"/>
<rect x="145.10" y="649.80" width="18.10" height="0.20" fill="#fdf59d"/>
<rect x="145.10" y="649.00" width="18.10" height="0.80" fill="#9c5730"/>
<rect x="145.10" y="648.80" width="18.10" height="0.20" fill="#4f9b74"/>
<rect x="145.10" y="648.50" width="18.10" height="0.30" fill="#c7610f"/>
<rect x="145.10" y="648.50" width="18.10" height="20.20" fill="none" stroke="#3a3a3a" stroke-width="0.7"/>
<line x1="154.15" y1="669.7" x2="154.15" y2="672.3000000000001" stroke="#222" stroke-width="0.8"/>
<text x="154.15" y="683.4" text-anchor="middle" font-family='"Liberation Sans", sans-serif' font-size="9.4" fill="#2a2a2a" stroke="#2a2a2a" stroke-width="0.15">40</text>
<text x="154.15" y="695.8" text-anchor="middle" font-family='"Liberation Sans", sans-serif' font-size="9.4" fill="#2a2a2a" stroke="#2a2a2a" stroke-width="0.15">14</text>
<rect x="163.20" y="660.80" width="18.10" height="7.90" fill="#b9e18c"/>
<rect x="163.20" y="657.20" width="18.10" height="3.60" fill="#59a037"/>
<rect x="163.20" y="656.20" width="18.10" height="1.00" fill="#e99a9c"/>
<rect x="163.20" y="654.20" width="18.10" height="2.00" fill="#cf2429"/>
<rect x="163.20" y="654.00" width="18.10" height="0.20" fill="#f2c077"/>
<rect x="163.20" y="653.80" width="18.10" height="0.20" fill="#ec8423"/>
<rect x="163.20" y="653.00" width="18.10" height="0.80" fill="#c2aed6"/>
<rect x="163.20" y="650.80" width="18.10" height="2.20" fill="#5b3a9a"/>
<rect x="163.20" y="650.60" width="18.10" height="0.20" fill="#fdf59d"/>
<rect x="163.20" y="649.00" width="18.10" height="1.60" fill="#9c5730"/>
<rect x="163.20" y="648.80" width="18.10" height="0.20" fill="#4f9b74"/>
<rect x="163.20" y="644.30" width="18.10" height="4.50" fill="#c7610f"/>
<rect x="163.20" y="644.30" width="18.10" height="24.40" fill="none" stroke="#3a3a3a" stroke-width="0.7"/>
<line x1="172.25" y1="669.7" x2="172.25" y2="672.3000000000001" stroke="#222" stroke-width="0.8"/>
<text x="172.25" y="683.4" text-anchor="middle" font-family='"Liberation Sans", sans-serif' font-size="9.4" fill="#2a2a2a" stroke="#2a2a2a" stroke-width="0.15">45</text>
<text x="172.25" y="695.8" text-anchor="middle" font-family='"Liberation Sans", sans-serif' font-size="9.4" fill="#2a2a2a" stroke="#2a2a2a" stroke-width="0.15">4</text>
<rect x="181.30" y="663.40" width="18.10" height="5.30" fill="#b9e18c"/>
<rect x="181.30" y="658.80" width="18.10" height="4.60" fill="#59a037"/>
<rect x="181.30" y="650.80" width="18.10" height="8.00" fill="#e99a9c"/>
<rect x="181.30" y="649.50" width="18.10" height="1.30" fill="#cf2429"/>
<rect x="181.30" y="647.00" width="18.10" height="2.50" fill="#f2c077"/>
<rect x="181.30" y="646.80" width="18.10" height="0.20" fill="#ec8423"/>
<rect x="181.30" y="646.00" width="18.10" height="0.80" fill="#c2aed6"/>
<rect x="181.30" y="645.40" width="18.10" height="0.60" fill="#5b3a9a"/>
<rect x="181.30" y="645.20" width="18.10" height="0.20" fill="#fdf59d"/>
<rect x="181.30" y="644.00" width="18.10" height="1.20" fill="#9c5730"/>
<rect x="181.30" y="643.80" width="18.10" height="0.20" fill="#4f9b74"/>
<rect x="181.30" y="642.30" width="18.10" height="1.50" fill="#c7610f"/>
<rect x="181.30" y="642.30" width="18.10" height="26.40" fill="none" stroke="#3a3a3a" stroke-width="0.7"/>
<line x1="190.35" y1="669.7" x2="190.35" y2="672.3000000000001" stroke="#222" stroke-width="0.8"/>
<text x="190.35" y="683.4" text-anchor="middle" font-family='"Liberation Sans", sans-serif' font-size="9.4" fill="#2a2a2a" stroke="#2a2a2a" stroke-width="0.15">50</text>
<text x="190.35" y="695.8" text-anchor="middle" font-family='"Liberation Sans", sans-serif' font-size="9.4" fill="#2a2a2a" stroke="#2a2a2a" stroke-width="0.15">12</text>
<rect x="199.40" y="658.20" width="18.10" height="10.50" fill="#b9e18c"/>
<rect x="199.40" y="653.00" width="18.10" height="5.20" fill="#59a037"/>
<rect x="199.40" y="652.00" width="18.10" height="1.00" fill="#e99a9c"/>
<rect x="199.40" y="651.00" width="18.10" height="1.00" fill="#cf2429"/>
<rect x="199.40" y="650.80" width="18.10" height="0.20" fill="#f2c077"/>
<rect x="199.40" y="650.60" width="18.10" height="0.20" fill="#ec8423"/>
<rect x="199.40" y="650.40" width="18.10" height="0.20" fill="#c2aed6"/>
<rect x="199.40" y="649.50" width="18.10" height="0.90" fill="#5b3a9a"/>
<rect x="199.40" y="647.40" width="18.10" height="2.10" fill="#fdf59d"/>
<rect x="199.40" y="646.60" width="18.10" height="0.80" fill="#9c5730"/>
<rect x="199.40" y="646.40" width="18.10" height="0.20" fill="#4f9b74"/>
<rect x="199.40" y="646.20" width="18.10" height="0.20" fill="#c7610f"/>
<rect x="199.40" y="646.20" width="18.10" height="22.50" fill="none" stroke="#3a3a3a" stroke-width="0.7"/>
<line x1="208.45" y1="669.7" x2="208.45" y2="672.3000000000001" stroke="#222" stroke-width="0.8"/>
<text x="208.45" y="683.4" text-anchor="middle" font-family='"Liberation Sans", sans-serif' font-size="9.4" fill="#2a2a2a" stroke="#2a2a2a" stroke-width="0.15">55</text>
<text x="208.45" y="695.8" text-anchor="middle" font-family='"Liberation Sans", sans-serif' font-size="9.4" fill="#2a2a2a" stroke="#2a2a2a" stroke-width="0.15">3</text>
<rect x="217.50" y="666.20" width="18.10" height="2.50" fill="#4473b6"/>
<rect x="217.50" y="663.80" width="18.10" height="2.40" fill="#b9e18c"/>
<rect x="217.50" y="662.30" width="18.10" height="1.50" fill="#59a037"/>
<rect x="217.50" y="651.50" width="18.10" height="10.80" fill="#e99a9c"/>
<rect x="217.50" y="646.90" width="18.10" height="4.60" fill="#cf2429"/>
<rect x="217.50" y="645.40" width="18.10" height="1.50" fill="#f2c077"/>
<rect x="217.50" y="645.20" width="18.10" height="0.20" fill="#ec8423"/>
<rect x="217.50" y="633.80" width="18.10" height="11.40" fill="#c2aed6"/>
<rect x="217.50" y="633.60" width="18.10" height="0.20" fill="#5b3a9a"/>
<rect x="217.50" y="632.60" width="18.10" height="1.00" fill="#fdf59d"/>
<rect x="217.50" y="631.80" width="18.10" height="0.80" fill="#9c5730"/>
<rect x="217.50" y="631.60" width="18.10" height="0.20" fill="#4f9b74"/>
<rect x="217.50" y="630.80" width="18.10" height="0.80" fill="#c7610f"/>
<rect x="217.50" y="630.80" width="18.10" height="37.90" fill="none" stroke="#3a3a3a" stroke-width="0.7"/>
<line x1="226.55" y1="669.7" x2="226.55" y2="672.3000000000001" stroke="#222" stroke-width="0.8"/>
<text x="226.55" y="683.4" text-anchor="middle" font-family='"Liberation Sans", sans-serif' font-size="9.4" fill="#2a2a2a" stroke="#2a2a2a" stroke-width="0.15">60</text>
<text x="226.55" y="695.8" text-anchor="middle" font-family='"Liberation Sans", sans-serif' font-size="9.4" fill="#2a2a2a" stroke="#2a2a2a" stroke-width="0.15">7</text>
<rect x="235.60" y="667.70" width="18.10" height="1.00" fill="#59a037"/>
<rect x="235.60" y="648.00" width="18.10" height="19.70" fill="#e99a9c"/>
<rect x="235.60" y="645.40" width="18.10" height="2.60" fill="#cf2429"/>
<rect x="235.60" y="644.30" width="18.10" height="1.10" fill="#f2c077"/>
<rect x="235.60" y="644.20" width="18.10" height="0.10" fill="#ec8423"/>
<rect x="235.60" y="644.10" width="18.10" height="0.10" fill="#c2aed6"/>
<rect x="235.60" y="640.80" width="18.10" height="3.30" fill="#5b3a9a"/>
<rect x="235.60" y="636.20" width="18.10" height="4.60" fill="#fdf59d"/>
<rect x="235.60" y="635.00" width="18.10" height="1.20" fill="#9c5730"/>
<rect x="235.60" y="634.80" width="18.10" height="0.20" fill="#4f9b74"/>
<rect x="235.60" y="632.30" width="18.10" height="2.50" fill="#c7610f"/>
<rect x="235.60" y="632.30" width="18.10" height="36.40" fill="none" stroke="#3a3a3a" stroke-width="0.7"/>
<line x1="244.65" y1="669.7" x2="244.65" y2="672.3000000000001" stroke="#222" stroke-width="0.8"/>
<text x="244.65" y="683.4" text-anchor="middle" font-family='"Liberation Sans", sans-serif' font-size="9.4" fill="#2a2a2a" stroke="#2a2a2a" stroke-width="0.15">65</text>
<text x="244.65" y="695.8" text-anchor="middle" font-family='"Liberation Sans", sans-serif' font-size="9.4" fill="#2a2a2a" stroke="#2a2a2a" stroke-width="0.15">3</text>
<rect x="253.70" y="638.50" width="18.10" height="30.20" fill="#b9e18c"/>
<rect x="253.70" y="638.40" width="18.10" height="0.10" fill="#59a037"/>
<rect x="253.70" y="634.20" width="18.10" height="4.20" fill="#e99a9c"/>
<rect x="253.70" y="632.30" width="18.10" height="1.90" fill="#cf2429"/>
<rect x="253.70" y="632.20" width="18.10" height="0.10" fill="#f2c077"/>
<rect x="253.70" y="632.10" width="18.10" height="0.10" fill="#ec8423"/>
<rect x="253.70" y="632.00" width="18.10" height="0.10" fill="#c2aed6"/>
<rect x="253.70" y="630.50" width="18.10" height="1.50" fill="#5b3a9a"/>
<rect x="253.70" y="624.60" width="18.10" height="5.90" fill="#fdf59d"/>
<rect x="253.70" y="624.00" width="18.10" height="0.60" fill="#9c5730"/>
<rect x="253.70" y="623.80" width="18.10" height="0.20" fill="#4f9b74"/>
<rect x="253.70" y="623.00" width="18.10" height="0.80" fill="#c7610f"/>
<rect x="253.70" y="623.00" width="18.10" height="45.70" fill="none" stroke="#3a3a3a" stroke-width="0.7"/>
<line x1="262.75" y1="669.7" x2="262.75" y2="672.3000000000001" stroke="#222" stroke-width="0.8"/>
<text x="262.75" y="683.4" text-anchor="middle" font-family='"Liberation Sans", sans-serif' font-size="9.4" fill="#2a2a2a" stroke="#2a2a2a" stroke-width="0.15">70</text>
<text x="262.75" y="695.8" text-anchor="middle" font-family='"Liberation Sans", sans-serif' font-size="9.4" fill="#2a2a2a" stroke="#2a2a2a" stroke-width="0.15">1</text>
<rect x="271.80" y="664.60" width="18.10" height="4.10" fill="#e99a9c"/>
<rect x="271.80" y="660.50" width="18.10" height="4.10" fill="#cf2429"/>
<rect x="271.80" y="659.60" width="18.10" height="0.90" fill="#f2c077"/>
<rect x="271.80" y="659.50" width="18.10" height="0.10" fill="#ec8423"/>
<rect x="271.80" y="659.40" width="18.10" height="0.10" fill="#c2aed6"/>
<rect x="271.80" y="654.90" width="18.10" height="4.50" fill="#5b3a9a"/>
<rect x="271.80" y="651.90" width="18.10" height="3.00" fill="#fdf59d"/>
<rect x="271.80" y="650.60" width="18.10" height="1.30" fill="#9c5730"/>
<rect x="271.80" y="650.40" width="18.10" height="0.20" fill="#4f9b74"/>
<rect x="271.80" y="650.00" width="18.10" height="0.40" fill="#c7610f"/>
<rect x="271.80" y="650.00" width="18.10" height="18.70" fill="none" stroke="#3a3a3a" stroke-width="0.7"/>
<line x1="280.85" y1="669.7" x2="280.85" y2="672.3000000000001" stroke="#222" stroke-width="0.8"/>
<text x="280.85" y="683.4" text-anchor="middle" font-family='"Liberation Sans", sans-serif' font-size="9.4" fill="#2a2a2a" stroke="#2a2a2a" stroke-width="0.15">75</text>
<text x="280.85" y="695.8" text-anchor="middle" font-family='"Liberation Sans", sans-serif' font-size="9.4" fill="#2a2a2a" stroke="#2a2a2a" stroke-width="0.15">1</text>
<rect x="289.90" y="664.20" width="18.10" height="4.50" fill="#59a037"/>
<rect x="289.90" y="638.80" width="18.10" height="25.40" fill="#e99a9c"/>
<rect x="289.90" y="633.70" width="18.10" height="5.10" fill="#cf2429"/>
<rect x="289.90" y="631.40" width="18.10" height="2.30" fill="#f2c077"/>
<rect x="289.90" y="631.20" width="18.10" height="0.20" fill="#ec8423"/>
<rect x="289.90" y="622.90" width="18.10" height="8.30" fill="#c2aed6"/>
<rect x="289.90" y="622.20" width="18.10" height="0.70" fill="#5b3a9a"/>
<rect x="289.90" y="620.10" width="18.10" height="2.10" fill="#fdf59d"/>
<rect x="289.90" y="619.20" width="18.10" height="0.90" fill="#9c5730"/>
<rect x="289.90" y="619.00" width="18.10" height="0.20" fill="#4f9b74"/>
<rect x="289.90" y="618.50" width="18.10" height="0.50" fill="#c7610f"/>
<rect x="289.90" y="618.50" width="18.10" height="50.20" fill="none" stroke="#3a3a3a" stroke-width="0.7"/>
<line x1="298.95" y1="669.7" x2="298.95" y2="672.3000000000001" stroke="#222" stroke-width="0.8"/>
<text x="298.95" y="683.4" text-anchor="middle" font-family='"Liberation Sans", sans-serif' font-size="9.4" fill="#2a2a2a" stroke="#2a2a2a" stroke-width="0.15">85</text>
<text x="298.95" y="695.8" text-anchor="middle" font-family='"Liberation Sans", sans-serif' font-size="9.4" fill="#2a2a2a" stroke="#2a2a2a" stroke-width="0.15">1</text>
<line x1="54.6" y1="669.5" x2="311.20" y2="669.5" stroke="#222" stroke-width="1.3"/>
<line x1="54.6" y1="534.4" x2="54.6" y2="670.1" stroke="#222" stroke-width="1.3"/>
<text x="311.6" y="683.2" font-family='"Liberation Sans", sans-serif' font-size="9.4" fill="#2a2a2a" stroke="#2a2a2a" stroke-width="0.15" textLength="24" lengthAdjust="spacingAndGlyphs">weeks</text>
<text x="321.5" y="695.7" font-family='"Liberation Sans", sans-serif' font-size="9.4" fill="#2a2a2a" stroke="#2a2a2a" stroke-width="0.15">n</text>
<rect x="180.9" y="533.8" width="1" height="2.4" fill="#777"/>
<rect x="189.7" y="335.6" width="1" height="2.2" fill="#888"/>
<rect x="368.8" y="323.8" width="143.5" height="167" fill="#ecebf1" stroke="#d2d2d8" stroke-width="0.8" rx="1"/>
<text x="441.5" y="333.4" text-anchor="middle" font-family='"Liberation Sans", sans-serif' font-weight="bold" font-size="8.6" fill="#111" textLength="44.3" lengthAdjust="spacingAndGlyphs">V4 ASVs of</text>
<rect x="371.7" y="338.60" width="17.4" height="6" fill="#4473b6"/>
<text x="393" y="344.20" font-family='"Liberation Sans", sans-serif' font-size="8.4" fill="#222" textLength="69.4" lengthAdjust="spacingAndGlyphs">order: Clostridiales</text>
<rect x="371.7" y="349.54" width="17.4" height="6" fill="#b9e18c"/>
<text x="393" y="355.14" font-family='"Liberation Sans", sans-serif' font-size="8.4" fill="#222" textLength="69.4" lengthAdjust="spacingAndGlyphs">order: Clostridiales</text>
<rect x="371.7" y="360.48" width="17.4" height="6" fill="#59a037"/>
<text x="393" y="366.08" font-family='"Liberation Sans", sans-serif' font-size="8.4" fill="#222" textLength="69.4" lengthAdjust="spacingAndGlyphs">order: Clostridiales</text>
<rect x="371.7" y="371.42" width="17.4" height="6" fill="#e99a9c"/>
<text x="393" y="377.02" font-family='"Liberation Sans", sans-serif' font-size="8.4" fill="#222" textLength="86.3" lengthAdjust="spacingAndGlyphs">genus: Parabacteroides</text>
<rect x="371.7" y="382.36" width="17.4" height="6" fill="#cf2429"/>
<text x="393" y="387.96" font-family='"Liberation Sans", sans-serif' font-size="8.4" fill="#222" textLength="69.4" lengthAdjust="spacingAndGlyphs">order: Clostridiales</text>
<rect x="371.7" y="393.30" width="17.4" height="6" fill="#f2c077"/>
<text x="393" y="398.90" font-family='"Liberation Sans", sans-serif' font-size="8.4" fill="#222" textLength="48.4" lengthAdjust="spacingAndGlyphs">family: S24-7</text>
<rect x="371.7" y="404.24" width="17.4" height="6" fill="#ec8423"/>
<text x="393" y="409.84" font-family='"Liberation Sans", sans-serif' font-size="8.4" fill="#222" textLength="69.4" lengthAdjust="spacingAndGlyphs">order: Clostridiales</text>
<rect x="371.7" y="415.18" width="17.4" height="6" fill="#c2aed6"/>
<text x="393" y="420.78" font-family='"Liberation Sans", sans-serif' font-size="8.4" fill="#222" textLength="69.4" lengthAdjust="spacingAndGlyphs">order: Clostridiales</text>
<rect x="371.7" y="426.12" width="17.4" height="6" fill="#5b3a9a"/>
<text x="393" y="431.72" font-family='"Liberation Sans", sans-serif' font-size="8.4" fill="#222" textLength="69.4" lengthAdjust="spacingAndGlyphs">genus: Oscillospira</text>
<rect x="371.7" y="437.06" width="17.4" height="6" fill="#fdf59d"/>
<text x="393" y="442.66" font-family='"Liberation Sans", sans-serif' font-size="8.4" fill="#222" textLength="48.4" lengthAdjust="spacingAndGlyphs">family: S24-7</text>
<rect x="371.7" y="448.00" width="17.4" height="6" fill="#9c5730"/>
<text x="393" y="453.60" font-family='"Liberation Sans", sans-serif' font-size="8.4" fill="#222" textLength="92.4" lengthAdjust="spacingAndGlyphs">family: Ruminococcaceae</text>
<rect x="371.7" y="458.94" width="17.4" height="6" fill="#4f9b74"/>
<text x="393" y="464.54" font-family='"Liberation Sans", sans-serif' font-size="8.4" fill="#222" textLength="48.4" lengthAdjust="spacingAndGlyphs">family: S24-7</text>
<rect x="371.7" y="469.88" width="17.4" height="6" fill="#c7610f"/>
<text x="393" y="475.48" font-family='"Liberation Sans", sans-serif' font-size="8.4" fill="#222" textLength="55.5" lengthAdjust="spacingAndGlyphs">species: ovatus</text>
<rect x="371.7" y="480.82" width="17.4" height="6" fill="#ffffff"/>
<text x="393" y="486.42" font-family='"Liberation Sans", sans-serif' font-size="8.4" fill="#222" textLength="99.8" lengthAdjust="spacingAndGlyphs">+2987 low abundance taxa</text>
</svg>
</body></html>
